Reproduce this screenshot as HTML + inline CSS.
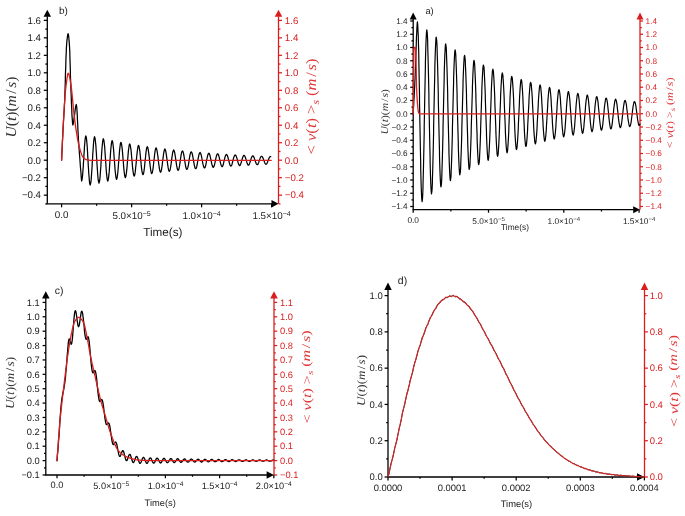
<!DOCTYPE html>
<html><head><meta charset="utf-8"><style>
html,body{margin:0;padding:0;background:#fff;}
svg{display:block;will-change:transform;}
text{text-rendering:geometricPrecision;}
</style></head><body>
<svg width="685" height="516" viewBox="0 0 685 516">
<rect width="685" height="516" fill="#fff"/>
<line x1="47.3" y1="203.8" x2="47.3" y2="16.3" stroke="#000" stroke-width="1.3"/>
<path d="M43.55,16.8 L47.3,9.8 L51.05,16.8Z" fill="#000"/>
<line x1="278.5" y1="203.8" x2="278.5" y2="16.3" stroke="#da1e1e" stroke-width="1.3"/>
<path d="M274.75,16.8 L278.5,9.8 L282.25,16.8Z" fill="#da1e1e"/>
<line x1="46.65" y1="203.8" x2="272" y2="203.8" stroke="#000" stroke-width="1.3"/>
<path d="M271.5,200.05 L278.5,203.8 L271.5,207.55Z" fill="#000"/>
<line x1="43.8" y1="195.16" x2="47.3" y2="195.16" stroke="#000" stroke-width="1.25"/>
<line x1="278.5" y1="195.16" x2="282" y2="195.16" stroke="#da1e1e" stroke-width="1.25"/>
<text x="41" y="198.46" font-size="9.7" font-family="'Liberation Sans', sans-serif" fill="#1a1a1a" text-anchor="end">−0.4</text>
<text x="284.8" y="198.46" font-size="9.7" font-family="'Liberation Sans', sans-serif" fill="#da1e1e">−0.4</text>
<line x1="43.8" y1="177.68" x2="47.3" y2="177.68" stroke="#000" stroke-width="1.25"/>
<line x1="278.5" y1="177.68" x2="282" y2="177.68" stroke="#da1e1e" stroke-width="1.25"/>
<text x="41" y="180.98" font-size="9.7" font-family="'Liberation Sans', sans-serif" fill="#1a1a1a" text-anchor="end">−0.2</text>
<text x="284.8" y="180.98" font-size="9.7" font-family="'Liberation Sans', sans-serif" fill="#da1e1e">−0.2</text>
<line x1="43.8" y1="160.2" x2="47.3" y2="160.2" stroke="#000" stroke-width="1.25"/>
<line x1="278.5" y1="160.2" x2="282" y2="160.2" stroke="#da1e1e" stroke-width="1.25"/>
<text x="41" y="163.5" font-size="9.7" font-family="'Liberation Sans', sans-serif" fill="#1a1a1a" text-anchor="end">0.0</text>
<text x="284.8" y="163.5" font-size="9.7" font-family="'Liberation Sans', sans-serif" fill="#da1e1e">0.0</text>
<line x1="43.8" y1="142.72" x2="47.3" y2="142.72" stroke="#000" stroke-width="1.25"/>
<line x1="278.5" y1="142.72" x2="282" y2="142.72" stroke="#da1e1e" stroke-width="1.25"/>
<text x="41" y="146.02" font-size="9.7" font-family="'Liberation Sans', sans-serif" fill="#1a1a1a" text-anchor="end">0.2</text>
<text x="284.8" y="146.02" font-size="9.7" font-family="'Liberation Sans', sans-serif" fill="#da1e1e">0.2</text>
<line x1="43.8" y1="125.24" x2="47.3" y2="125.24" stroke="#000" stroke-width="1.25"/>
<line x1="278.5" y1="125.24" x2="282" y2="125.24" stroke="#da1e1e" stroke-width="1.25"/>
<text x="41" y="128.54" font-size="9.7" font-family="'Liberation Sans', sans-serif" fill="#1a1a1a" text-anchor="end">0.4</text>
<text x="284.8" y="128.54" font-size="9.7" font-family="'Liberation Sans', sans-serif" fill="#da1e1e">0.4</text>
<line x1="43.8" y1="107.76" x2="47.3" y2="107.76" stroke="#000" stroke-width="1.25"/>
<line x1="278.5" y1="107.76" x2="282" y2="107.76" stroke="#da1e1e" stroke-width="1.25"/>
<text x="41" y="111.06" font-size="9.7" font-family="'Liberation Sans', sans-serif" fill="#1a1a1a" text-anchor="end">0.6</text>
<text x="284.8" y="111.06" font-size="9.7" font-family="'Liberation Sans', sans-serif" fill="#da1e1e">0.6</text>
<line x1="43.8" y1="90.28" x2="47.3" y2="90.28" stroke="#000" stroke-width="1.25"/>
<line x1="278.5" y1="90.28" x2="282" y2="90.28" stroke="#da1e1e" stroke-width="1.25"/>
<text x="41" y="93.58" font-size="9.7" font-family="'Liberation Sans', sans-serif" fill="#1a1a1a" text-anchor="end">0.8</text>
<text x="284.8" y="93.58" font-size="9.7" font-family="'Liberation Sans', sans-serif" fill="#da1e1e">0.8</text>
<line x1="43.8" y1="72.8" x2="47.3" y2="72.8" stroke="#000" stroke-width="1.25"/>
<line x1="278.5" y1="72.8" x2="282" y2="72.8" stroke="#da1e1e" stroke-width="1.25"/>
<text x="41" y="76.1" font-size="9.7" font-family="'Liberation Sans', sans-serif" fill="#1a1a1a" text-anchor="end">1.0</text>
<text x="284.8" y="76.1" font-size="9.7" font-family="'Liberation Sans', sans-serif" fill="#da1e1e">1.0</text>
<line x1="43.8" y1="55.32" x2="47.3" y2="55.32" stroke="#000" stroke-width="1.25"/>
<line x1="278.5" y1="55.32" x2="282" y2="55.32" stroke="#da1e1e" stroke-width="1.25"/>
<text x="41" y="58.62" font-size="9.7" font-family="'Liberation Sans', sans-serif" fill="#1a1a1a" text-anchor="end">1.2</text>
<text x="284.8" y="58.62" font-size="9.7" font-family="'Liberation Sans', sans-serif" fill="#da1e1e">1.2</text>
<line x1="43.8" y1="37.84" x2="47.3" y2="37.84" stroke="#000" stroke-width="1.25"/>
<line x1="278.5" y1="37.84" x2="282" y2="37.84" stroke="#da1e1e" stroke-width="1.25"/>
<text x="41" y="41.14" font-size="9.7" font-family="'Liberation Sans', sans-serif" fill="#1a1a1a" text-anchor="end">1.4</text>
<text x="284.8" y="41.14" font-size="9.7" font-family="'Liberation Sans', sans-serif" fill="#da1e1e">1.4</text>
<line x1="43.8" y1="20.36" x2="47.3" y2="20.36" stroke="#000" stroke-width="1.25"/>
<line x1="278.5" y1="20.36" x2="282" y2="20.36" stroke="#da1e1e" stroke-width="1.25"/>
<text x="41" y="23.66" font-size="9.7" font-family="'Liberation Sans', sans-serif" fill="#1a1a1a" text-anchor="end">1.6</text>
<text x="284.8" y="23.66" font-size="9.7" font-family="'Liberation Sans', sans-serif" fill="#da1e1e">1.6</text>
<line x1="45.3" y1="203.9" x2="47.3" y2="203.9" stroke="#000" stroke-width="1.25"/>
<line x1="278.5" y1="203.9" x2="280.5" y2="203.9" stroke="#da1e1e" stroke-width="1.25"/>
<line x1="45.3" y1="186.42" x2="47.3" y2="186.42" stroke="#000" stroke-width="1.25"/>
<line x1="278.5" y1="186.42" x2="280.5" y2="186.42" stroke="#da1e1e" stroke-width="1.25"/>
<line x1="45.3" y1="168.94" x2="47.3" y2="168.94" stroke="#000" stroke-width="1.25"/>
<line x1="278.5" y1="168.94" x2="280.5" y2="168.94" stroke="#da1e1e" stroke-width="1.25"/>
<line x1="45.3" y1="151.46" x2="47.3" y2="151.46" stroke="#000" stroke-width="1.25"/>
<line x1="278.5" y1="151.46" x2="280.5" y2="151.46" stroke="#da1e1e" stroke-width="1.25"/>
<line x1="45.3" y1="133.98" x2="47.3" y2="133.98" stroke="#000" stroke-width="1.25"/>
<line x1="278.5" y1="133.98" x2="280.5" y2="133.98" stroke="#da1e1e" stroke-width="1.25"/>
<line x1="45.3" y1="116.5" x2="47.3" y2="116.5" stroke="#000" stroke-width="1.25"/>
<line x1="278.5" y1="116.5" x2="280.5" y2="116.5" stroke="#da1e1e" stroke-width="1.25"/>
<line x1="45.3" y1="99.02" x2="47.3" y2="99.02" stroke="#000" stroke-width="1.25"/>
<line x1="278.5" y1="99.02" x2="280.5" y2="99.02" stroke="#da1e1e" stroke-width="1.25"/>
<line x1="45.3" y1="81.54" x2="47.3" y2="81.54" stroke="#000" stroke-width="1.25"/>
<line x1="278.5" y1="81.54" x2="280.5" y2="81.54" stroke="#da1e1e" stroke-width="1.25"/>
<line x1="45.3" y1="64.06" x2="47.3" y2="64.06" stroke="#000" stroke-width="1.25"/>
<line x1="278.5" y1="64.06" x2="280.5" y2="64.06" stroke="#da1e1e" stroke-width="1.25"/>
<line x1="45.3" y1="46.58" x2="47.3" y2="46.58" stroke="#000" stroke-width="1.25"/>
<line x1="278.5" y1="46.58" x2="280.5" y2="46.58" stroke="#da1e1e" stroke-width="1.25"/>
<line x1="45.3" y1="29.1" x2="47.3" y2="29.1" stroke="#000" stroke-width="1.25"/>
<line x1="278.5" y1="29.1" x2="280.5" y2="29.1" stroke="#da1e1e" stroke-width="1.25"/>
<line x1="61.6" y1="203.8" x2="61.6" y2="207.3" stroke="#000" stroke-width="1.25"/>
<line x1="131.6" y1="203.8" x2="131.6" y2="207.3" stroke="#000" stroke-width="1.25"/>
<line x1="201.6" y1="203.8" x2="201.6" y2="207.3" stroke="#000" stroke-width="1.25"/>
<line x1="271.6" y1="203.8" x2="271.6" y2="207.3" stroke="#000" stroke-width="1.25"/>
<line x1="96.6" y1="203.8" x2="96.6" y2="205.8" stroke="#000" stroke-width="1.25"/>
<line x1="166.6" y1="203.8" x2="166.6" y2="205.8" stroke="#000" stroke-width="1.25"/>
<line x1="236.6" y1="203.8" x2="236.6" y2="205.8" stroke="#000" stroke-width="1.25"/>
<text x="61.6" y="217.7" font-size="9.8" font-family="'Liberation Sans', sans-serif" fill="#1a1a1a" text-anchor="middle">0.0</text>
<text x="131.6" y="219" font-size="9.8" font-family="'Liberation Sans', sans-serif" fill="#1a1a1a" text-anchor="middle">5.0×10<tspan dy="-0.45em" font-size="0.72em">−5</tspan></text>
<text x="201.6" y="219" font-size="9.8" font-family="'Liberation Sans', sans-serif" fill="#1a1a1a" text-anchor="middle">1.0×10<tspan dy="-0.45em" font-size="0.72em">−4</tspan></text>
<text x="271.6" y="219" font-size="9.8" font-family="'Liberation Sans', sans-serif" fill="#1a1a1a" text-anchor="middle">1.5×10<tspan dy="-0.45em" font-size="0.72em">−4</tspan></text>
<text x="162.9" y="235.9" font-size="11.7" font-family="'Liberation Sans', sans-serif" fill="#1a1a1a" text-anchor="middle">Time(s)</text>
<text x="59" y="13.7" font-size="10" font-family="'Liberation Sans', sans-serif" fill="#1a1a1a">b)</text>
<text transform="translate(15.6,107) rotate(-90)" x="0" y="0" text-anchor="middle" font-family="&apos;Liberation Serif&apos;, serif" font-size="15" fill="#333" textLength="61" lengthAdjust="spacingAndGlyphs"><tspan font-style="italic">U</tspan>(<tspan font-style="italic">t</tspan>)(<tspan font-style="italic">m</tspan><tspan dx="0.1em">/</tspan><tspan font-style="italic" dx="0.1em">s</tspan>)</text>
<text transform="translate(316.2,106.5) rotate(-90)" x="0" y="0" text-anchor="middle" font-family="&apos;Liberation Serif&apos;, serif" font-size="14.5" fill="#e03636" textLength="96" lengthAdjust="spacingAndGlyphs">&lt; <tspan font-style="italic">v</tspan>(<tspan font-style="italic">t</tspan>) &gt;<tspan font-style="italic" font-size="0.7em" dy="0.25em">s</tspan><tspan dy="-0.18em"> (</tspan><tspan font-style="italic">m</tspan><tspan dx="0.1em">/</tspan><tspan font-style="italic" dx="0.1em">s</tspan>)</text>
<path d="M61.6 160.2L61.8 156.4L61.9 152.7L62.1 149.1L62.3 145.5L62.4 142L62.6 138.5L62.8 135.2L62.9 131.8L63.1 128.6L63.3 125.4L63.4 122.2L63.6 119.2L63.8 116.5L63.9 114L64.3 108.9L64.4 106L64.6 102.8L64.8 98.9L64.9 93.8L65.1 87.8L65.3 81.5L65.4 75.4L65.6 70L65.8 65.1L65.9 60.1L66.1 55.4L66.3 51.1L66.4 47.6L66.6 45L66.9 41.1L67.3 37.8L67.6 35.2L68.1 33.6L68.6 35.6L68.9 38.8L69.3 43.1L69.6 48L69.8 51.6L69.9 56.7L70.1 62.8L70.3 69.1L70.4 75.1L70.6 80L70.8 84.3L70.9 88.7L71.1 93.1L71.3 97.6L71.4 101.9L71.6 106.1L71.8 110.1L71.9 113.7L72.1 117L72.3 119.8L72.6 123.8L72.9 125L73.4 123.1L73.9 119.3L74.3 116.6L74.8 113.2L75.1 110.7L75.4 108.2L75.9 105.3L76.3 104.5L76.8 107.5L77.1 112.5L77.3 115.6L77.4 118.9L77.6 122.4L77.8 126L77.9 129.6L78.1 133L78.3 136.2L78.4 139L78.8 143.9L79.1 148.6L79.4 153.3L79.8 157.9L80.1 162.4L80.4 166.7L80.8 171L81.1 175.1L81.4 179.1L81.6 181L82.1 179.4L82.6 175.2L82.9 171.1L83.3 166.3L83.4 163.6L83.6 160.9L83.8 158.1L83.9 155.4L84.1 152.6L84.3 150L84.4 147.5L84.8 143L85.1 139.4L85.6 136.3L85.9 135.9L86.4 138L86.7 140.9L87.1 145L87.4 150L87.6 152.7L87.7 155.6L87.9 158.5L88.1 161.4L88.2 164.3L88.4 167.2L88.6 170L88.7 172.6L89.1 177.3L89.4 181L89.7 183.6L90.2 185L90.7 183.2L91.1 180.5L91.4 176.6L91.7 171.8L91.9 169.2L92.1 166.5L92.2 163.6L92.4 160.8L92.6 157.9L92.7 155.1L92.9 152.3L93.1 149.7L93.4 145L93.7 141.2L94.1 138.4L94.5 136.7L95 137.9L95.5 142L95.9 146L96.2 150.7L96.4 153.3L96.5 156L96.7 158.7L96.9 161.5L97 164.2L97.2 166.9L97.4 169.5L97.7 174.2L98 178L98.4 180.9L98.9 183L99 183.1L99.5 181.4L99.9 178.8L100.2 175.2L100.5 170.8L100.9 165.8L101 163.2L101.2 160.6L101.4 158L101.5 155.4L101.7 152.9L102 148.2L102.4 144.3L102.7 141.3L103.2 138.9L103.3 138.7L103.8 139.9L104.3 143.6L104.7 147.3L105 151.7L105.3 156.5L105.5 159L105.7 161.5L106 166.5L106.3 171L106.7 174.9L107 178L107.5 180.7L107.8 181.1L108.3 179.5L108.8 175.6L109.2 171.9L109.5 167.5L109.8 162.8L110.2 158L110.5 153.4L110.8 149.2L111.2 145.7L111.5 142.9L112 140.8L112.1 140.6L112.6 141.7L113.1 145.2L113.5 148.6L113.8 152.6L114.1 157L114.5 161.6L114.8 166.1L115.1 170.2L115.5 173.8L115.8 176.5L116.3 179L116.6 179.3L117.1 177.8L117.6 174.1L118 170.7L118.3 166.8L118.6 162.5L119 158.1L119.3 153.9L119.6 150.1L120 146.9L120.4 143.5L120.9 142.3L121.4 143.4L121.9 146.6L122.3 149.7L122.6 153.4L122.9 157.4L123.3 161.6L123.6 165.7L123.9 169.4L124.3 172.7L124.6 175.2L125.1 177.3L125.4 177.6L125.9 176.2L126.4 172.9L126.8 169.7L127.1 166.1L127.4 162.2L127.8 158.2L128.1 154.4L128.4 150.9L128.8 148L129.2 145L129.7 143.9L130.2 145L130.7 147.9L131.1 150.7L131.4 154.1L131.7 157.8L132.1 161.6L132.4 165.3L132.7 168.7L133.1 171.7L133.6 174.8L134.1 176.1L134.6 175.4L135.1 172.9L135.4 170.3L135.7 167.2L136.1 163.8L136.4 160.1L136.7 156.5L137.1 153.2L137.4 150.3L137.9 147L138.4 145.5L138.5 145.4L139 146.3L139.5 149.1L139.9 151.7L140.2 154.7L140.5 158.1L140.9 161.6L141.2 165L141.5 168.1L141.9 170.7L142.4 173.6L142.9 174.7L143.4 174.1L143.9 171.7L144.4 168L144.7 165L145 161.7L145.4 158.4L145.7 155.2L146 152.4L146.5 149L147 147.1L147.3 146.7L147.8 147.6L148.3 150.1L148.8 153.9L149.2 156.8L149.5 160L149.8 163.1L150.2 166.1L150.5 168.7L151 171.7L151.5 173.3L151.7 173.5L152.2 172.9L152.7 170.7L153.2 167.3L153.5 164.5L153.8 161.5L154.2 158.5L154.5 155.6L154.8 153L155.3 149.9L155.8 148.2L156.1 147.9L156.6 148.8L157.1 151.1L157.6 154.5L158 157.2L158.3 160.1L158.6 163L159 165.7L159.5 169.1L160 171.4L160.5 172.3L161 171.7L161.5 169.7L162 166.6L162.3 164.1L162.6 161.3L163 158.6L163.3 156L163.8 152.5L164.3 150.2L164.8 149.1L164.9 149L165.4 149.8L165.9 151.9L166.4 155.1L166.9 158.9L167.3 161.5L167.6 164.1L168.1 167.4L168.6 169.9L169.1 171.2L169.3 171.3L169.8 170.7L170.3 168.9L170.8 166L171.3 162.4L171.6 159.9L172.1 156.3L172.6 153.2L173.1 151L173.6 150.1L173.7 150L174.2 150.8L174.7 152.7L175.2 155.6L175.7 159.1L176.2 162.7L176.7 165.9L177.2 168.5L177.7 170L178.1 170.3L178.6 169.8L179.1 168.1L179.6 165.4L180.1 162.2L180.5 158.8L181 155.6L181.5 153L182 151.4L182.5 150.9L183 151.6L183.5 153.4L184 156.1L184.5 159.3L185 162.5L185.5 165.5L186 167.8L186.5 169.2L186.9 169.4L187.4 168.9L187.9 167.4L188.4 164.9L188.9 162L189.3 158.9L189.8 156L190.3 153.6L190.8 152.2L191.3 151.8L191.8 152.4L192.3 154.1L192.8 156.5L193.3 159.4L193.8 162.4L194.3 165.1L194.8 167.2L195.3 168.4L195.7 168.6L196.2 168.2L196.7 166.7L197.2 164.5L197.6 161.8L198.1 158.9L198.6 156.3L199.1 154.2L199.6 152.9L200.1 152.5L200.6 153.2L201.1 154.7L201.6 156.9L202.1 159.5L202.6 162.3L203.1 164.7L203.6 166.6L204.1 167.7L204.5 167.9L205 167.5L205.5 166.1L206 164.1L206.4 161.6L206.9 159L207.4 156.6L207.9 154.7L208.4 153.5L208.9 153.2L209.4 153.8L209.9 155.2L210.4 157.3L210.9 159.7L211.4 162.1L211.9 164.4L212.4 166.1L212.9 167.1L213.3 167.3L213.8 166.8L214.3 165.6L214.8 163.7L215.2 161.5L215.7 159.1L216.2 156.9L216.7 155.2L217.2 154.1L217.6 153.9L218.1 154.1L218.6 155.2L219.1 156.9L219.6 159L220.1 161.3L220.6 163.4L221.1 165.2L221.6 166.3L222.1 166.7L222.6 166.2L223.1 165.1L223.5 163.4L224 161.3L224.5 159.2L225 157.2L225.5 155.6L226 154.7L226.4 154.4L226.9 154.7L227.4 155.7L227.9 157.2L228.4 159.2L228.9 161.2L229.4 163.2L229.9 164.8L230.4 165.8L230.9 166.1L231.4 165.7L231.9 164.7L232.3 163.1L232.8 161.2L233.3 159.2L233.8 157.4L234.3 156L234.8 155.2L235.2 155L235.7 155.2L236.2 156.1L236.7 157.6L237.2 159.3L237.7 161.2L238.2 163L238.7 164.4L239.2 165.3L239.7 165.6L240.2 165.2L240.6 164.3L241.1 162.8L241.6 161.1L242.1 159.3L242.6 157.7L243.1 156.4L243.6 155.6L244 155.4L244.5 155.7L245 156.5L245.5 157.8L246 159.4L246.5 161.2L247 162.8L247.5 164.1L248 164.9L248.5 165.1L249 164.8L249.4 163.9L249.9 162.6L250.4 161L250.9 159.4L251.4 157.9L251.9 156.7L252.4 156L252.8 155.9L253.3 156.1L253.8 156.9L254.3 158.1L254.8 159.6L255.3 161.1L255.8 162.6L256.3 163.8L256.8 164.5L257.3 164.7L257.8 164.4L258.2 163.6L258.7 162.4L259.2 160.9L259.7 159.4L260.2 158.1L260.7 157L261.2 156.4L261.6 156.3L262.1 156.5L262.6 157.2L263.1 158.3L263.6 159.7L264.1 161.1L264.6 162.4L265.1 163.5L265.6 164.2L266.1 164.3L266.5 164L267 163.3L267.5 162.2L268 160.9L268.5 159.5L269 158.3L269.5 157.3L270 156.7L270.4 156.6L270.7 156.7" fill="none" stroke="#000" stroke-width="1.25" stroke-linejoin="round" stroke-linecap="round"/>
<path d="M61.6 160.2L61.8 154.6L62.1 149.1L62.3 143.7L62.6 138.6L62.8 133.5L63.1 128.6L63.3 123.8L63.6 119.2L63.8 114.5L64.1 110.1L64.3 105.8L64.6 102L64.8 98.7L65.1 95.5L65.3 92.6L65.6 89.8L66.1 85.2L66.6 81.3L67.1 77.6L67.6 74.7L68.1 73.2L68.3 73.2L68.8 74.1L69.3 75.8L69.8 78.2L70.3 81.1L70.8 84.2L71.3 87.3L71.8 91.5L72.3 96.6L72.6 99.4L72.8 102.1L73.1 104.8L73.3 107.4L73.8 112L74.3 116.3L74.8 120.4L75.3 124.3L75.8 127.9L76.3 131.2L76.8 134.4L77.3 137.3L77.8 140.2L78.3 142.8L78.8 145.1L79.3 147.1L79.8 148.8L80.3 150.5L80.8 152.1L81.3 153.6L81.8 154.9L82.3 156L82.8 156.9L83.3 157.5L83.8 158L84.3 158.4L84.8 158.7L85.3 159.1L85.8 159.4L86.3 159.6L86.8 159.8L87.3 160L87.8 160.1L88.3 160.2L88.8 160.2L89.3 160.2L89.8 160.3L90.3 160.3L90.8 160.3L91.3 160.3L91.8 160.4L92.3 160.4L92.8 160.4L93.3 160.4L93.8 160.4L94.3 160.4L94.8 160.4L95.1 160.4L95.3 160.4L95.6 160.4L95.8 160.4L96.1 160.4L96.3 160.4L96.6 160.4L96.8 160.4L97.1 160.4L97.3 160.4L97.6 160.4L97.8 160.4L98.1 160.4L98.3 160.4L98.6 160.4L98.8 160.4L99.1 160.4L99.3 160.4L99.6 160.4L99.8 160.4L100.1 160.4L100.3 160.4L100.6 160.4L100.8 160.4L101.1 160.4L101.3 160.4L101.6 160.4L101.8 160.4L102.1 160.4L102.3 160.4L102.6 160.4L102.8 160.4L103.1 160.4L103.3 160.4L103.6 160.4L103.8 160.4L104.1 160.4L104.3 160.4L104.6 160.4L104.8 160.4L105.1 160.4L105.3 160.4L105.6 160.4L105.8 160.4L106.1 160.4L106.3 160.4L106.6 160.4L106.8 160.4L107.1 160.4L107.3 160.4L107.6 160.4L107.8 160.4L108.1 160.4L108.3 160.4L108.6 160.4L108.8 160.4L109.1 160.4L109.3 160.4L109.6 160.4L109.8 160.4L110.1 160.4L110.3 160.4L110.6 160.4L110.8 160.4L111.1 160.4L111.3 160.4L111.6 160.4L111.8 160.4L112.1 160.4L112.3 160.4L112.6 160.4L112.8 160.4L113.1 160.4L113.3 160.4L113.6 160.4L113.8 160.4L114.1 160.4L114.3 160.4L114.6 160.4L114.8 160.4L115.1 160.4L115.3 160.4L115.6 160.4L115.8 160.4L116.1 160.4L116.3 160.4L116.6 160.4L116.8 160.4L117.1 160.4L117.3 160.4L117.6 160.4L117.8 160.4L118.1 160.4L118.3 160.4L118.6 160.4L118.8 160.4L119.1 160.4L119.3 160.4L119.6 160.4L119.8 160.4L120.1 160.4L120.3 160.4L120.6 160.4L120.8 160.4L121.1 160.4L121.3 160.4L121.6 160.4L121.8 160.4L122.1 160.4L122.3 160.4L122.6 160.4L122.8 160.4L123.1 160.4L123.3 160.4L123.6 160.4L123.8 160.4L124.1 160.4L124.3 160.4L124.6 160.4L124.8 160.4L125.1 160.4L125.3 160.4L125.6 160.4L125.8 160.4L126.1 160.4L126.3 160.4L126.6 160.4L126.8 160.4L127.1 160.4L127.3 160.4L127.6 160.4L127.8 160.4L128.1 160.4L128.3 160.4L128.6 160.4L128.8 160.4L129.1 160.4L129.3 160.4L129.6 160.4L129.8 160.4L130.1 160.4L130.3 160.4L130.6 160.4L130.8 160.4L131.1 160.4L131.3 160.4L131.5 160.4L131.8 160.4L132 160.4L132.3 160.4L132.5 160.4L132.8 160.4L133 160.4L133.3 160.4L133.5 160.4L133.8 160.4L134 160.4L134.3 160.4L134.5 160.4L134.8 160.4L135 160.4L135.3 160.4L135.5 160.4L135.8 160.4L136 160.4L136.3 160.4L136.5 160.4L136.8 160.4L137 160.4L137.3 160.4L137.5 160.4L137.8 160.4L138 160.4L138.3 160.4L138.5 160.4L138.8 160.4L139 160.4L139.3 160.4L139.5 160.4L139.8 160.4L140 160.4L140.3 160.4L140.5 160.4L140.8 160.4L141 160.4L141.3 160.4L141.5 160.4L141.8 160.4L142 160.4L142.3 160.4L142.5 160.4L142.8 160.4L143 160.4L143.3 160.4L143.5 160.4L143.8 160.4L144 160.4L144.3 160.4L144.5 160.4L144.8 160.4L145 160.4L145.3 160.4L145.5 160.4L145.8 160.4L146 160.4L146.3 160.4L146.5 160.4L146.8 160.4L147 160.4L147.3 160.4L147.5 160.4L147.8 160.4L148 160.4L148.3 160.4L148.5 160.4L148.8 160.4L149 160.4L149.3 160.4L149.5 160.4L149.8 160.4L150 160.4L150.3 160.4L150.5 160.4L150.8 160.4L151 160.4L151.3 160.4L151.5 160.4L151.8 160.4L152 160.4L152.3 160.4L152.5 160.4L152.8 160.4L153 160.4L153.3 160.4L153.5 160.4L153.8 160.4L154 160.4L154.3 160.4L154.5 160.4L154.8 160.4L155 160.4L155.3 160.4L155.5 160.4L155.8 160.4L156 160.4L156.3 160.4L156.5 160.4L156.8 160.4L157 160.4L157.3 160.4L157.5 160.4L157.8 160.4L158 160.4L158.3 160.4L158.5 160.4L158.8 160.4L159 160.4L159.3 160.4L159.5 160.4L159.8 160.4L160 160.4L160.3 160.4L160.5 160.4L160.8 160.4L161 160.4L161.3 160.4L161.5 160.4L161.8 160.4L162 160.4L162.3 160.4L162.5 160.4L162.8 160.4L163 160.4L163.3 160.4L163.5 160.4L163.8 160.4L164 160.4L164.3 160.4L164.5 160.4L164.8 160.4L165 160.4L165.3 160.4L165.5 160.4L165.8 160.4L166 160.4L166.3 160.4L166.5 160.4L166.8 160.4L167 160.4L167.3 160.4L167.5 160.4L167.8 160.4L168 160.4L168.3 160.4L168.5 160.4L168.8 160.4L169 160.4L169.3 160.4L169.5 160.4L169.8 160.4L170 160.4L170.3 160.4L170.5 160.4L170.8 160.4L171 160.4L171.3 160.4L171.5 160.4L171.8 160.4L172 160.4L172.3 160.4L172.5 160.4L172.8 160.4L173 160.4L173.3 160.4L173.5 160.4L173.8 160.4L174 160.4L174.3 160.4L174.5 160.4L174.8 160.4L175 160.4L175.3 160.4L175.5 160.4L175.8 160.4L176 160.4L176.3 160.4L176.5 160.4L176.8 160.4L177 160.4L177.3 160.4L177.5 160.4L177.8 160.4L178 160.4L178.3 160.4L178.5 160.4L178.8 160.4L179 160.4L179.3 160.4L179.5 160.4L179.8 160.4L180 160.4L180.3 160.4L180.5 160.4L180.8 160.4L181 160.4L181.3 160.4L181.5 160.4L181.8 160.4L182 160.4L182.3 160.4L182.5 160.4L182.8 160.4L183 160.4L183.3 160.4L183.5 160.4L183.8 160.4L184 160.4L184.3 160.4L184.5 160.4L184.8 160.4L185 160.4L185.3 160.4L185.5 160.4L185.8 160.4L186 160.4L186.3 160.4L186.5 160.4L186.8 160.4L187 160.4L187.3 160.4L187.5 160.4L187.8 160.4L188 160.4L188.3 160.4L188.5 160.4L188.8 160.4L189 160.4L189.3 160.4L189.5 160.4L189.8 160.4L190 160.4L190.3 160.4L190.5 160.4L190.8 160.4L191 160.4L191.3 160.4L191.5 160.4L191.8 160.4L192 160.4L192.3 160.4L192.5 160.4L192.8 160.4L193 160.4L193.3 160.4L193.5 160.4L193.8 160.4L194 160.4L194.3 160.4L194.5 160.4L194.8 160.4L195 160.4L195.3 160.4L195.5 160.4L195.8 160.4L196 160.4L196.3 160.4L196.5 160.4L196.8 160.4L197 160.4L197.3 160.4L197.5 160.4L197.8 160.4L198 160.4L198.3 160.4L198.5 160.4L198.8 160.4L199 160.4L199.3 160.4L199.5 160.4L199.8 160.4L200 160.4L200.3 160.4L200.5 160.4L200.8 160.4L201 160.4L201.3 160.4L201.5 160.4L201.7 160.4L202 160.4L202.2 160.4L202.5 160.4L202.7 160.4L203 160.4L203.2 160.4L203.5 160.4L203.7 160.4L204 160.4L204.2 160.4L204.5 160.4L204.7 160.4L205 160.4L205.2 160.4L205.5 160.4L205.7 160.4L206 160.4L206.2 160.4L206.5 160.4L206.7 160.4L207 160.4L207.2 160.4L207.5 160.4L207.7 160.4L208 160.4L208.2 160.4L208.5 160.4L208.7 160.4L209 160.4L209.2 160.4L209.5 160.4L209.7 160.4L210 160.4L210.2 160.4L210.5 160.4L210.7 160.4L211 160.4L211.2 160.4L211.5 160.4L211.7 160.4L212 160.4L212.2 160.4L212.5 160.4L212.7 160.4L213 160.4L213.2 160.4L213.5 160.4L213.7 160.4L214 160.4L214.2 160.4L214.5 160.4L214.7 160.4L215 160.4L215.2 160.4L215.5 160.4L215.7 160.4L216 160.4L216.2 160.4L216.5 160.4L216.7 160.4L217 160.4L217.2 160.4L217.5 160.4L217.7 160.4L218 160.4L218.2 160.4L218.5 160.4L218.7 160.4L219 160.4L219.2 160.4L219.5 160.4L219.7 160.4L220 160.4L220.2 160.4L220.5 160.4L220.7 160.4L221 160.4L221.2 160.4L221.5 160.4L221.7 160.4L222 160.4L222.2 160.4L222.5 160.4L222.7 160.4L223 160.4L223.2 160.4L223.5 160.4L223.7 160.4L224 160.4L224.2 160.4L224.5 160.4L224.7 160.4L225 160.4L225.2 160.4L225.5 160.4L225.7 160.4L226 160.4L226.2 160.4L226.5 160.4L226.7 160.4L227 160.4L227.2 160.4L227.5 160.4L227.7 160.4L228 160.4L228.2 160.4L228.5 160.4L228.7 160.4L229 160.4L229.2 160.4L229.5 160.4L229.7 160.4L230 160.4L230.2 160.4L230.5 160.4L230.7 160.4L231 160.4L231.2 160.4L231.5 160.4L231.7 160.4L232 160.4L232.2 160.4L232.5 160.4L232.7 160.4L233 160.4L233.2 160.4L233.5 160.4L233.7 160.4L234 160.4L234.2 160.4L234.5 160.4L234.7 160.4L235 160.4L235.2 160.4L235.5 160.4L235.7 160.4L236 160.4L236.2 160.4L236.5 160.4L236.7 160.4L237 160.4L237.2 160.4L237.5 160.4L237.7 160.4L238 160.4L238.2 160.4L238.5 160.4L238.7 160.4L239 160.4L239.2 160.4L239.5 160.4L239.7 160.4L240 160.4L240.2 160.4L240.5 160.4L240.7 160.4L241 160.4L241.2 160.4L241.5 160.4L241.7 160.4L242 160.4L242.2 160.4L242.5 160.4L242.7 160.4L243 160.4L243.2 160.4L243.5 160.4L243.7 160.4L244 160.4L244.2 160.4L244.5 160.4L244.7 160.4L245 160.4L245.2 160.4L245.5 160.4L245.7 160.4L246 160.4L246.2 160.4L246.5 160.4L246.7 160.4L247 160.4L247.2 160.4L247.5 160.4L247.7 160.4L248 160.4L248.2 160.4L248.5 160.4L248.7 160.4L249 160.4L249.2 160.4L249.5 160.4L249.7 160.4L250 160.4L250.2 160.4L250.5 160.4L250.7 160.4L251 160.4L251.2 160.4L251.5 160.4L251.7 160.4L252 160.4L252.2 160.4L252.5 160.4L252.7 160.4L253 160.4L253.2 160.4L253.5 160.4L253.7 160.4L254 160.4L254.2 160.4L254.5 160.4L254.7 160.4L255 160.4L255.2 160.4L255.5 160.4L255.7 160.4L256 160.4L256.2 160.4L256.5 160.4L256.7 160.4L257 160.4L257.2 160.4L257.5 160.4L257.7 160.4L258 160.4L258.2 160.4L258.5 160.4L258.7 160.4L259 160.4L259.2 160.4L259.5 160.4L259.7 160.4L260 160.4L260.2 160.4L260.5 160.4L260.7 160.4L261 160.4L261.2 160.4L261.5 160.4L261.7 160.4L262 160.4L262.2 160.4L262.5 160.4L262.7 160.4L263 160.4L263.2 160.4L263.5 160.4L263.7 160.4L264 160.4L264.2 160.4L264.5 160.4L264.7 160.4L265 160.4L265.2 160.4L265.5 160.4L265.7 160.4L266 160.4L266.2 160.4L266.5 160.4L266.7 160.4L267 160.4L267.2 160.4L267.5 160.4L267.7 160.4L268 160.4L268.2 160.4L268.5 160.4L268.7 160.4L269 160.4L269.2 160.4L269.5 160.4L269.7 160.4L270 160.4L270.2 160.4L270.5 160.4L270.7 160.4L271 160.4L271.2 160.4" fill="none" stroke="#da1e1e" stroke-width="1.3" stroke-linejoin="round" stroke-linecap="round"/>
<line x1="413.2" y1="209.7" x2="413.2" y2="18.9" stroke="#000" stroke-width="1.3"/>
<path d="M409.7,19.4 L413.2,12.6 L416.7,19.4Z" fill="#000"/>
<line x1="640" y1="209.7" x2="640" y2="18.9" stroke="#da1e1e" stroke-width="1.3"/>
<path d="M636.5,19.4 L640,12.6 L643.5,19.4Z" fill="#da1e1e"/>
<line x1="412.55" y1="209.7" x2="633.7" y2="209.7" stroke="#000" stroke-width="1.3"/>
<path d="M633.2,206.2 L640,209.7 L633.2,213.2Z" fill="#000"/>
<line x1="410.2" y1="206.5" x2="413.2" y2="206.5" stroke="#000" stroke-width="1.25"/>
<line x1="640" y1="206.5" x2="643" y2="206.5" stroke="#da1e1e" stroke-width="1.25"/>
<text x="407.6" y="209.4" font-size="8.2" font-family="'Liberation Sans', sans-serif" fill="#1a1a1a" text-anchor="end">−1.4</text>
<text x="645.6" y="209.4" font-size="8.2" font-family="'Liberation Sans', sans-serif" fill="#da1e1e">−1.4</text>
<line x1="410.2" y1="193.25" x2="413.2" y2="193.25" stroke="#000" stroke-width="1.25"/>
<line x1="640" y1="193.25" x2="643" y2="193.25" stroke="#da1e1e" stroke-width="1.25"/>
<text x="407.6" y="196.15" font-size="8.2" font-family="'Liberation Sans', sans-serif" fill="#1a1a1a" text-anchor="end">−1.2</text>
<text x="645.6" y="196.15" font-size="8.2" font-family="'Liberation Sans', sans-serif" fill="#da1e1e">−1.2</text>
<line x1="410.2" y1="180" x2="413.2" y2="180" stroke="#000" stroke-width="1.25"/>
<line x1="640" y1="180" x2="643" y2="180" stroke="#da1e1e" stroke-width="1.25"/>
<text x="407.6" y="182.9" font-size="8.2" font-family="'Liberation Sans', sans-serif" fill="#1a1a1a" text-anchor="end">−1.0</text>
<text x="645.6" y="182.9" font-size="8.2" font-family="'Liberation Sans', sans-serif" fill="#da1e1e">−1.0</text>
<line x1="410.2" y1="166.75" x2="413.2" y2="166.75" stroke="#000" stroke-width="1.25"/>
<line x1="640" y1="166.75" x2="643" y2="166.75" stroke="#da1e1e" stroke-width="1.25"/>
<text x="407.6" y="169.65" font-size="8.2" font-family="'Liberation Sans', sans-serif" fill="#1a1a1a" text-anchor="end">−0.8</text>
<text x="645.6" y="169.65" font-size="8.2" font-family="'Liberation Sans', sans-serif" fill="#da1e1e">−0.8</text>
<line x1="410.2" y1="153.5" x2="413.2" y2="153.5" stroke="#000" stroke-width="1.25"/>
<line x1="640" y1="153.5" x2="643" y2="153.5" stroke="#da1e1e" stroke-width="1.25"/>
<text x="407.6" y="156.4" font-size="8.2" font-family="'Liberation Sans', sans-serif" fill="#1a1a1a" text-anchor="end">−0.6</text>
<text x="645.6" y="156.4" font-size="8.2" font-family="'Liberation Sans', sans-serif" fill="#da1e1e">−0.6</text>
<line x1="410.2" y1="140.25" x2="413.2" y2="140.25" stroke="#000" stroke-width="1.25"/>
<line x1="640" y1="140.25" x2="643" y2="140.25" stroke="#da1e1e" stroke-width="1.25"/>
<text x="407.6" y="143.15" font-size="8.2" font-family="'Liberation Sans', sans-serif" fill="#1a1a1a" text-anchor="end">−0.4</text>
<text x="645.6" y="143.15" font-size="8.2" font-family="'Liberation Sans', sans-serif" fill="#da1e1e">−0.4</text>
<line x1="410.2" y1="127" x2="413.2" y2="127" stroke="#000" stroke-width="1.25"/>
<line x1="640" y1="127" x2="643" y2="127" stroke="#da1e1e" stroke-width="1.25"/>
<text x="407.6" y="129.9" font-size="8.2" font-family="'Liberation Sans', sans-serif" fill="#1a1a1a" text-anchor="end">−0.2</text>
<text x="645.6" y="129.9" font-size="8.2" font-family="'Liberation Sans', sans-serif" fill="#da1e1e">−0.2</text>
<line x1="410.2" y1="113.75" x2="413.2" y2="113.75" stroke="#000" stroke-width="1.25"/>
<line x1="640" y1="113.75" x2="643" y2="113.75" stroke="#da1e1e" stroke-width="1.25"/>
<text x="407.6" y="116.65" font-size="8.2" font-family="'Liberation Sans', sans-serif" fill="#1a1a1a" text-anchor="end">0.0</text>
<text x="645.6" y="116.65" font-size="8.2" font-family="'Liberation Sans', sans-serif" fill="#da1e1e">0.0</text>
<line x1="410.2" y1="100.5" x2="413.2" y2="100.5" stroke="#000" stroke-width="1.25"/>
<line x1="640" y1="100.5" x2="643" y2="100.5" stroke="#da1e1e" stroke-width="1.25"/>
<text x="407.6" y="103.4" font-size="8.2" font-family="'Liberation Sans', sans-serif" fill="#1a1a1a" text-anchor="end">0.2</text>
<text x="645.6" y="103.4" font-size="8.2" font-family="'Liberation Sans', sans-serif" fill="#da1e1e">0.2</text>
<line x1="410.2" y1="87.25" x2="413.2" y2="87.25" stroke="#000" stroke-width="1.25"/>
<line x1="640" y1="87.25" x2="643" y2="87.25" stroke="#da1e1e" stroke-width="1.25"/>
<text x="407.6" y="90.15" font-size="8.2" font-family="'Liberation Sans', sans-serif" fill="#1a1a1a" text-anchor="end">0.4</text>
<text x="645.6" y="90.15" font-size="8.2" font-family="'Liberation Sans', sans-serif" fill="#da1e1e">0.4</text>
<line x1="410.2" y1="74" x2="413.2" y2="74" stroke="#000" stroke-width="1.25"/>
<line x1="640" y1="74" x2="643" y2="74" stroke="#da1e1e" stroke-width="1.25"/>
<text x="407.6" y="76.9" font-size="8.2" font-family="'Liberation Sans', sans-serif" fill="#1a1a1a" text-anchor="end">0.6</text>
<text x="645.6" y="76.9" font-size="8.2" font-family="'Liberation Sans', sans-serif" fill="#da1e1e">0.6</text>
<line x1="410.2" y1="60.75" x2="413.2" y2="60.75" stroke="#000" stroke-width="1.25"/>
<line x1="640" y1="60.75" x2="643" y2="60.75" stroke="#da1e1e" stroke-width="1.25"/>
<text x="407.6" y="63.65" font-size="8.2" font-family="'Liberation Sans', sans-serif" fill="#1a1a1a" text-anchor="end">0.8</text>
<text x="645.6" y="63.65" font-size="8.2" font-family="'Liberation Sans', sans-serif" fill="#da1e1e">0.8</text>
<line x1="410.2" y1="47.5" x2="413.2" y2="47.5" stroke="#000" stroke-width="1.25"/>
<line x1="640" y1="47.5" x2="643" y2="47.5" stroke="#da1e1e" stroke-width="1.25"/>
<text x="407.6" y="50.4" font-size="8.2" font-family="'Liberation Sans', sans-serif" fill="#1a1a1a" text-anchor="end">1.0</text>
<text x="645.6" y="50.4" font-size="8.2" font-family="'Liberation Sans', sans-serif" fill="#da1e1e">1.0</text>
<line x1="410.2" y1="34.25" x2="413.2" y2="34.25" stroke="#000" stroke-width="1.25"/>
<line x1="640" y1="34.25" x2="643" y2="34.25" stroke="#da1e1e" stroke-width="1.25"/>
<text x="407.6" y="37.15" font-size="8.2" font-family="'Liberation Sans', sans-serif" fill="#1a1a1a" text-anchor="end">1.2</text>
<text x="645.6" y="37.15" font-size="8.2" font-family="'Liberation Sans', sans-serif" fill="#da1e1e">1.2</text>
<line x1="410.2" y1="21" x2="413.2" y2="21" stroke="#000" stroke-width="1.25"/>
<line x1="640" y1="21" x2="643" y2="21" stroke="#da1e1e" stroke-width="1.25"/>
<text x="407.6" y="23.9" font-size="8.2" font-family="'Liberation Sans', sans-serif" fill="#1a1a1a" text-anchor="end">1.4</text>
<text x="645.6" y="23.9" font-size="8.2" font-family="'Liberation Sans', sans-serif" fill="#da1e1e">1.4</text>
<line x1="411.4" y1="199.88" x2="413.2" y2="199.88" stroke="#000" stroke-width="1.25"/>
<line x1="640" y1="199.88" x2="641.8" y2="199.88" stroke="#da1e1e" stroke-width="1.25"/>
<line x1="411.4" y1="186.62" x2="413.2" y2="186.62" stroke="#000" stroke-width="1.25"/>
<line x1="640" y1="186.62" x2="641.8" y2="186.62" stroke="#da1e1e" stroke-width="1.25"/>
<line x1="411.4" y1="173.38" x2="413.2" y2="173.38" stroke="#000" stroke-width="1.25"/>
<line x1="640" y1="173.38" x2="641.8" y2="173.38" stroke="#da1e1e" stroke-width="1.25"/>
<line x1="411.4" y1="160.12" x2="413.2" y2="160.12" stroke="#000" stroke-width="1.25"/>
<line x1="640" y1="160.12" x2="641.8" y2="160.12" stroke="#da1e1e" stroke-width="1.25"/>
<line x1="411.4" y1="146.88" x2="413.2" y2="146.88" stroke="#000" stroke-width="1.25"/>
<line x1="640" y1="146.88" x2="641.8" y2="146.88" stroke="#da1e1e" stroke-width="1.25"/>
<line x1="411.4" y1="133.62" x2="413.2" y2="133.62" stroke="#000" stroke-width="1.25"/>
<line x1="640" y1="133.62" x2="641.8" y2="133.62" stroke="#da1e1e" stroke-width="1.25"/>
<line x1="411.4" y1="120.38" x2="413.2" y2="120.38" stroke="#000" stroke-width="1.25"/>
<line x1="640" y1="120.38" x2="641.8" y2="120.38" stroke="#da1e1e" stroke-width="1.25"/>
<line x1="411.4" y1="107.12" x2="413.2" y2="107.12" stroke="#000" stroke-width="1.25"/>
<line x1="640" y1="107.12" x2="641.8" y2="107.12" stroke="#da1e1e" stroke-width="1.25"/>
<line x1="411.4" y1="93.88" x2="413.2" y2="93.88" stroke="#000" stroke-width="1.25"/>
<line x1="640" y1="93.88" x2="641.8" y2="93.88" stroke="#da1e1e" stroke-width="1.25"/>
<line x1="411.4" y1="80.62" x2="413.2" y2="80.62" stroke="#000" stroke-width="1.25"/>
<line x1="640" y1="80.62" x2="641.8" y2="80.62" stroke="#da1e1e" stroke-width="1.25"/>
<line x1="411.4" y1="67.38" x2="413.2" y2="67.38" stroke="#000" stroke-width="1.25"/>
<line x1="640" y1="67.38" x2="641.8" y2="67.38" stroke="#da1e1e" stroke-width="1.25"/>
<line x1="411.4" y1="54.12" x2="413.2" y2="54.12" stroke="#000" stroke-width="1.25"/>
<line x1="640" y1="54.12" x2="641.8" y2="54.12" stroke="#da1e1e" stroke-width="1.25"/>
<line x1="411.4" y1="40.88" x2="413.2" y2="40.88" stroke="#000" stroke-width="1.25"/>
<line x1="640" y1="40.88" x2="641.8" y2="40.88" stroke="#da1e1e" stroke-width="1.25"/>
<line x1="411.4" y1="27.62" x2="413.2" y2="27.62" stroke="#000" stroke-width="1.25"/>
<line x1="640" y1="27.62" x2="641.8" y2="27.62" stroke="#da1e1e" stroke-width="1.25"/>
<line x1="413.2" y1="209.7" x2="413.2" y2="212.7" stroke="#000" stroke-width="1.25"/>
<line x1="488.5" y1="209.7" x2="488.5" y2="212.7" stroke="#000" stroke-width="1.25"/>
<line x1="563.8" y1="209.7" x2="563.8" y2="212.7" stroke="#000" stroke-width="1.25"/>
<line x1="639.1" y1="209.7" x2="639.1" y2="212.7" stroke="#000" stroke-width="1.25"/>
<line x1="450.85" y1="209.7" x2="450.85" y2="211.5" stroke="#000" stroke-width="1.25"/>
<line x1="526.15" y1="209.7" x2="526.15" y2="211.5" stroke="#000" stroke-width="1.25"/>
<line x1="601.45" y1="209.7" x2="601.45" y2="211.5" stroke="#000" stroke-width="1.25"/>
<text x="413.2" y="222.5" font-size="8.3" font-family="'Liberation Sans', sans-serif" fill="#1a1a1a" text-anchor="middle">0.0</text>
<text x="488.5" y="223.7" font-size="8.3" font-family="'Liberation Sans', sans-serif" fill="#1a1a1a" text-anchor="middle">5.0×10<tspan dy="-0.45em" font-size="0.72em">−5</tspan></text>
<text x="563.8" y="223.7" font-size="8.3" font-family="'Liberation Sans', sans-serif" fill="#1a1a1a" text-anchor="middle">1.0×10<tspan dy="-0.45em" font-size="0.72em">−4</tspan></text>
<text x="639.1" y="223.7" font-size="8.3" font-family="'Liberation Sans', sans-serif" fill="#1a1a1a" text-anchor="middle">1.5×10<tspan dy="-0.45em" font-size="0.72em">−4</tspan></text>
<text x="515" y="230" font-size="8.3" font-family="'Liberation Sans', sans-serif" fill="#1a1a1a" text-anchor="middle">Time(s)</text>
<text x="425.4" y="13.9" font-size="9.3" font-family="'Liberation Sans', sans-serif" fill="#1a1a1a">a)</text>
<text transform="translate(387.5,111.8) rotate(-90)" x="0" y="0" text-anchor="middle" font-family="&apos;Liberation Serif&apos;, serif" font-size="10" fill="#333" textLength="45.6" lengthAdjust="spacingAndGlyphs"><tspan font-style="italic">U</tspan>(<tspan font-style="italic">t</tspan>)(<tspan font-style="italic">m</tspan><tspan dx="0.1em">/</tspan><tspan font-style="italic" dx="0.1em">s</tspan>)</text>
<text transform="translate(673,112.8) rotate(-90)" x="0" y="0" text-anchor="middle" font-family="&apos;Liberation Serif&apos;, serif" font-size="10" fill="#e03636" textLength="70.8" lengthAdjust="spacingAndGlyphs">&lt; <tspan font-style="italic">v</tspan>(<tspan font-style="italic">t</tspan>) &gt;<tspan font-style="italic" font-size="0.7em" dy="0.25em">s</tspan><tspan dy="-0.18em"> (</tspan><tspan font-style="italic">m</tspan><tspan dx="0.1em">/</tspan><tspan font-style="italic" dx="0.1em">s</tspan>)</text>
<path d="M413.2 113.8L413.4 109.7L413.7 105.4L413.9 100.9L414.2 96.2L414.4 91.2L414.6 88.6L414.7 86L414.8 83.3L414.9 80.6L415.1 77.8L415.2 74.9L415.3 71.9L415.4 68.9L415.6 65.8L415.7 62.6L415.8 59.1L415.9 55.3L416 51.2L416.2 47.1L416.3 43.1L416.4 39.4L416.5 36.2L416.7 33.5L416.8 30.7L416.9 28L417.2 23.5L417.4 21.8L417.8 25.8L418 31.1L418.2 34L418.3 37.1L418.4 40.9L418.5 45.4L418.7 50.5L418.8 56.1L418.9 64.6L419 69.4L419.1 74.4L419.2 79.5L419.3 84.7L419.4 90.1L419.5 95.5L419.5 100.9L419.6 106.4L419.7 111.9L419.8 117.4L419.9 122.9L420 128.4L420.1 133.7L420.2 139L420.3 144.2L420.4 149.3L420.5 154.2L420.6 159L420.7 163.6L420.7 168L420.8 172.1L420.9 176.1L421 179.8L421.1 183.2L421.2 186.4L421.3 189.3L421.4 192L421.6 196.3L421.8 199.4L422.1 201.6L422.5 198.6L422.7 195.2L422.9 190.5L423 187.8L423 184.8L423.1 181.5L423.2 177.9L423.3 174.2L423.4 170.2L423.5 166L423.6 161.6L423.7 157.1L423.8 152.3L423.9 147.5L424 142.5L424.1 137.5L424.2 132.3L424.2 127.1L424.3 121.9L424.4 116.6L424.5 111.4L424.6 106.1L424.7 100.9L424.8 95.7L424.9 90.7L425 85.7L425.1 80.8L425.2 76.1L425.3 71.5L425.4 67.1L425.4 62.9L425.5 58.8L425.6 55L425.7 51.4L425.8 48.1L425.9 45L426 42.1L426.1 39.6L426.3 35.3L426.5 32.2L426.8 29.8L427.2 32.4L427.4 35.6L427.6 39.9L427.7 42.5L427.7 45.3L427.8 48.4L427.9 51.7L428 55.2L428.1 59L428.2 63L428.3 67.1L428.4 71.4L428.5 75.9L428.6 80.5L428.7 85.2L428.8 90L428.9 94.9L428.9 99.9L429 104.9L429.1 109.9L429.2 115L429.3 120L429.4 125L429.5 129.9L429.6 134.8L429.7 139.6L429.8 144.2L429.9 148.8L430 153.2L430.1 157.4L430.1 161.5L430.2 165.4L430.3 169.1L430.4 172.6L430.5 175.8L430.6 178.9L430.7 181.6L430.8 184.1L431 188.3L431.2 191.4L431.5 193.9L432 190.4L432.2 186.9L432.4 182.4L432.4 179.7L432.5 176.8L432.6 173.7L432.7 170.4L432.8 166.8L432.9 163.1L433 159.1L433.1 155.1L433.2 150.8L433.3 146.4L433.4 142L433.5 137.4L433.6 132.7L433.6 128L433.7 123.2L433.8 118.4L433.9 113.6L434 108.8L434.1 104L434.2 99.3L434.3 94.7L434.4 90.1L434.5 85.6L434.6 81.2L434.7 77L434.8 72.9L434.8 68.9L434.9 65.2L435 61.6L435.1 58.2L435.2 55.1L435.3 52.2L435.4 49.5L435.6 44.8L435.8 41.2L436 37.9L436.2 37.2L436.7 40.3L436.9 43.4L437.1 47.7L437.2 52.9L437.3 55.8L437.4 59L437.5 62.3L437.6 65.9L437.7 69.6L437.8 73.4L437.9 77.5L438 81.6L438.1 85.9L438.2 90.2L438.3 94.7L438.3 99.2L438.4 103.7L438.5 108.3L438.6 112.9L438.7 117.5L438.8 122.1L438.9 126.6L439 131.1L439.1 135.4L439.2 139.8L439.3 144L439.4 148L439.5 152L439.5 155.8L439.6 159.4L439.7 162.9L439.8 166.1L439.9 169.2L440 172L440.1 174.6L440.3 179.2L440.5 182.7L440.7 186L441 186.9L441.4 184.2L441.6 181.3L441.8 177.4L441.9 172.5L442 169.7L442.1 166.8L442.2 163.6L442.3 160.3L442.4 156.7L442.5 153.1L442.6 149.3L442.7 145.3L442.8 141.3L442.9 137.1L443 132.9L443 128.6L443.1 124.3L443.2 119.9L443.3 115.5L443.4 111.1L443.5 106.7L443.6 102.4L443.7 98.1L443.8 93.9L443.9 89.8L444 85.7L444.1 81.8L444.2 78L444.2 74.4L444.3 70.9L444.4 67.5L444.5 64.4L444.6 61.4L444.7 58.6L444.8 56.1L445 51.7L445.2 48.2L445.4 44.8L445.7 43.8L446.2 47.4L446.4 50.6L446.5 54.7L446.7 59.7L446.8 62.5L446.9 65.5L447 68.6L447.1 71.9L447.2 75.4L447.3 79L447.4 82.8L447.5 86.6L447.6 90.6L447.7 94.6L447.7 98.7L447.8 102.8L447.9 107L448 111.2L448.1 115.4L448.2 119.6L448.3 123.7L448.4 127.8L448.5 131.9L448.6 135.8L448.7 139.7L448.8 143.5L448.9 147.1L448.9 150.7L449 154L449.1 157.3L449.2 160.3L449.3 163.2L449.4 165.9L449.6 170.6L449.8 174.5L450 177.5L450.2 180.1L450.4 180.6L450.9 177.4L451.1 174.5L451.2 170.7L451.4 166L451.5 163.3L451.6 160.5L451.7 157.5L451.8 154.4L451.9 151.1L452 147.7L452.1 144.1L452.2 140.5L452.3 136.7L452.4 132.9L452.4 129L452.5 125L452.6 121.1L452.7 117.1L452.8 113L452.9 109.1L453 105.1L453.1 101.1L453.2 97.3L453.3 93.5L453.4 89.7L453.5 86.1L453.6 82.6L453.6 79.2L453.7 75.9L453.8 72.8L453.9 69.9L454 67.1L454.1 64.5L454.3 59.8L454.5 56L454.7 53.1L454.9 50.5L455.1 49.9L455.6 52.6L455.8 55.3L455.9 58.9L456.1 63.3L456.3 68.5L456.4 71.3L456.5 74.3L456.6 77.4L456.7 80.6L456.8 84L456.9 87.5L457 91L457.1 94.7L457.1 98.4L457.2 102.2L457.3 106L457.4 109.8L457.5 113.6L457.6 117.4L457.7 121.2L457.8 125L457.9 128.7L458 132.4L458.1 136L458.2 139.4L458.3 142.8L458.3 146.1L458.4 149.3L458.5 152.3L458.6 155.1L458.7 157.8L458.8 160.3L459 164.8L459.2 168.6L459.4 171.4L459.6 174.1L459.8 174.8L460.3 172.4L460.5 169.9L460.7 166.5L460.8 162.4L461 157.6L461.1 154.9L461.2 152.1L461.3 149.2L461.4 146.1L461.5 142.9L461.6 139.6L461.7 136.2L461.8 132.7L461.8 129.2L461.9 125.6L462 122L462.1 118.3L462.2 114.7L462.3 111L462.4 107.4L462.5 103.8L462.6 100.2L462.7 96.7L462.8 93.2L462.9 89.9L463 86.6L463 83.5L463.1 80.4L463.2 77.5L463.3 74.8L463.4 72.2L463.6 67.4L463.8 63.4L464 60.2L464.2 56.8L464.6 55.4L465.1 58.5L465.3 61.3L465.4 64.7L465.6 69L465.8 73.8L465.9 76.5L466 79.3L466.1 82.2L466.2 85.2L466.3 88.4L466.4 91.6L466.5 94.9L466.5 98.3L466.6 101.7L466.7 105.1L466.8 108.6L466.9 112.1L467 115.6L467.1 119.1L467.2 122.6L467.3 126L467.4 129.4L467.5 132.7L467.6 135.9L467.7 139L467.7 142.1L467.8 145L467.9 147.8L468 150.5L468.1 153L468.3 157.6L468.5 161.5L468.7 164.7L468.9 168L469.3 169.5L469.8 166.8L470 164.3L470.1 161L470.3 157L470.5 152.4L470.6 149.9L470.7 147.3L470.8 144.5L470.9 141.6L471 138.7L471.1 135.6L471.2 132.5L471.2 129.3L471.3 126L471.4 122.7L471.5 119.4L471.6 116L471.7 112.7L471.8 109.3L471.9 106L472 102.7L472.1 99.5L472.2 96.3L472.3 93.2L472.4 90.2L472.4 87.3L472.5 84.5L472.6 81.8L472.7 79.2L472.9 74.4L473.1 70.3L473.3 66.8L473.5 64.1L473.7 61.4L474 60.4L474.5 62.9L474.8 66.6L474.9 70L475.1 74L475.3 78.6L475.4 81.1L475.5 83.8L475.6 86.5L475.7 89.3L475.8 92.2L475.9 95.2L475.9 98.3L476 101.4L476.1 104.5L476.2 107.7L476.3 110.9L476.4 114.1L476.5 117.3L476.6 120.5L476.7 123.6L476.8 126.7L476.9 129.8L477 132.7L477.1 135.6L477.1 138.5L477.2 141.2L477.3 143.8L477.5 148.6L477.7 153L477.9 156.7L478.1 159.7L478.3 163L478.7 164.7L479.2 162.6L479.5 159.1L479.6 156L479.8 152.2L480 147.8L480.2 143L480.3 140.4L480.4 137.7L480.5 134.9L480.6 132.1L480.6 129.2L480.7 126.2L480.8 123.2L480.9 120.2L481 117.1L481.1 114.1L481.2 111L481.3 108L481.4 105L481.5 102L481.6 99.1L481.7 96.2L481.8 93.4L481.8 90.7L481.9 88.1L482 85.6L482.2 80.9L482.4 76.7L482.6 73L482.8 70.1L483 66.8L483.4 65L483.9 66.8L484.2 70.1L484.3 73L484.5 76.6L484.7 80.7L484.9 85.3L485.1 90.3L485.2 92.9L485.3 95.6L485.3 98.4L485.4 101.2L485.5 104.1L485.6 107L485.7 109.9L485.8 112.8L485.9 115.7L486 118.7L486.1 121.5L486.2 124.4L486.3 127.2L486.4 130L486.5 132.6L486.5 135.3L486.6 137.8L486.8 142.5L487 146.8L487.2 150.6L487.4 153.9L487.6 156.5L487.8 159.2L488.2 160.4L488.7 157.9L488.9 154.5L489.1 151.4L489.3 147.8L489.5 143.7L489.7 139.1L489.9 134.2L490 131.6L490.1 129L490.1 126.3L490.2 123.6L490.3 120.8L490.4 118L490.5 115.2L490.6 112.4L490.7 109.7L490.8 106.9L490.9 104.2L491 101.5L491.1 98.8L491.2 96.2L491.2 93.7L491.4 88.9L491.6 84.5L491.8 80.6L492 77.2L492.2 74.3L492.4 71.2L492.9 69.1L493.4 71.3L493.6 74.5L493.8 77.4L494 80.8L494.2 84.7L494.4 89L494.6 93.7L494.8 98.6L494.8 101.2L494.9 103.8L495 106.4L495.1 109.1L495.2 111.8L495.3 114.4L495.4 117.1L495.5 119.8L495.6 122.4L495.7 125L495.8 127.5L495.9 132.4L496.1 137L496.3 141.3L496.5 145.1L496.7 148.4L496.9 151.2L497.1 154.3L497.6 156.4L498.1 154.5L498.3 151.6L498.5 148.9L498.7 145.7L498.9 142L499.1 137.9L499.3 133.5L499.5 128.7L499.6 123.8L499.7 121.3L499.8 118.8L499.9 116.2L500 113.6L500.1 111.1L500.2 108.5L500.3 106L500.5 101.1L500.6 96.4L500.8 91.9L501 87.8L501.2 84.2L501.4 80.9L501.6 78.2L501.8 75.1L502.3 72.9L502.8 74.6L503 77.3L503.2 79.9L503.4 82.9L503.6 86.3L503.8 90.2L504 94.4L504.2 98.9L504.3 103.6L504.5 108.4L504.7 113.3L504.9 118.2L505.1 123L505.3 127.7L505.4 132.1L505.6 136.2L505.8 140L506 143.3L506.2 146.3L506.5 149.7L506.8 152.3L507.1 152.8L507.6 150.6L507.8 147.7L508 145.1L508.2 142L508.4 138.6L508.6 134.7L508.8 130.6L508.9 126.2L509.1 121.6L509.3 117L509.5 112.3L509.7 107.7L509.9 103.1L510 98.8L510.2 94.6L510.4 90.8L510.6 87.3L510.8 84.3L511 81.7L511.2 78.7L511.7 76.4L511.8 76.4L512.3 78.3L512.5 81L512.8 84.9L513 88L513.2 91.4L513.4 95.2L513.6 99.3L513.7 103.5L513.9 107.9L514.1 112.4L514.3 116.9L514.5 121.3L514.7 125.6L514.8 129.7L515 133.5L515.2 137.1L515.4 140.2L515.6 143L515.9 146.3L516.2 148.9L516.5 149.5L517 147.8L517.2 145.3L517.5 141.7L517.7 138.8L517.9 135.5L518.1 131.9L518.3 128L518.4 124L518.6 119.8L518.8 115.5L519 111.2L519.2 107L519.4 102.9L519.5 98.9L519.7 95.2L519.9 91.8L520.1 88.7L520.3 86L520.6 82.8L520.9 80.2L521.2 79.5L521.7 81L522 84.4L522.3 88.1L522.5 91L522.7 94.3L522.9 97.8L523 101.6L523.2 105.5L523.4 109.6L523.6 113.7L523.8 117.8L524 121.8L524.2 125.7L524.3 129.4L524.5 132.8L524.7 136L524.9 138.8L525.2 142.2L525.5 145.3L525.9 146.5L526.4 145.2L526.7 142.1L527 138.6L527.2 135.8L527.4 132.7L527.6 129.4L527.7 125.8L527.9 122L528.1 118.1L528.3 114.2L528.5 110.3L528.7 106.4L528.9 102.7L529 99.2L529.2 95.8L529.4 92.8L529.6 90.1L529.9 86.7L530.2 83.6L530.7 82.4L531.2 84.1L531.5 87.4L531.8 91L532 93.7L532.2 96.8L532.4 100.1L532.5 103.6L532.7 107.3L532.9 111L533.1 114.8L533.3 118.5L533.5 122.2L533.6 125.7L533.8 129L534 132.1L534.2 134.9L534.5 138.4L534.7 141.2L535.2 143.6L535.4 143.8L535.9 142.3L536.2 139.2L536.5 135.8L536.7 133.2L536.9 130.3L537.1 127.1L537.2 123.8L537.4 120.3L537.6 116.8L537.8 113.1L538 109.6L538.2 106.1L538.3 102.7L538.5 99.5L538.7 96.5L538.9 93.8L539.2 90.3L539.4 87.7L539.9 85.2L540.1 85L540.6 86.3L540.9 89.2L541.2 92.3L541.5 96.2L541.7 99.1L541.8 102.2L542 105.4L542.2 108.8L542.4 112.2L542.6 115.7L542.8 119.1L543 122.4L543.1 125.6L543.3 128.6L543.5 131.3L543.8 134.9L544.1 137.8L544.4 140.3L544.8 141.3L545.3 140.1L545.6 137.4L545.9 134.5L546.2 130.9L546.4 128.1L546.5 125.2L546.7 122.1L546.9 118.8L547.1 115.6L547.3 112.3L547.5 109L547.7 105.8L547.8 102.7L548 99.9L548.2 97.2L548.5 93.7L548.8 90.9L549.1 88.4L549.5 87.4L550 88.4L550.4 91.7L550.7 94.7L551 98.4L551.2 101.1L551.3 104L551.5 107L551.7 110.1L551.9 113.3L552.1 116.4L552.3 119.5L552.4 122.5L552.6 125.4L552.8 128.1L553.1 131.7L553.4 134.6L553.7 137.5L554.2 139L554.3 139L554.7 137.7L555.1 135L555.4 132.2L555.7 128.7L555.9 126.2L556 123.4L556.2 120.5L556.4 117.6L556.6 114.5L556.8 111.5L557 108.5L557.1 105.6L557.3 102.9L557.5 100.3L557.8 96.8L558.1 93.9L558.4 91.1L558.9 89.6L559 89.6L559.4 90.7L559.9 94L560.2 96.9L560.5 100.3L560.6 102.9L560.8 105.6L561 108.4L561.2 111.2L561.4 114.1L561.6 117L561.8 119.9L561.9 122.6L562.1 125.2L562.4 128.7L562.7 131.7L563 134.7L563.5 136.7L563.7 136.9L564.1 135.9L564.6 132.8L564.9 130.1L565.2 126.8L565.4 123.2L565.6 120.6L565.8 117.8L566 115.1L566.2 112.3L566.4 109.5L566.5 106.9L566.7 104.3L567 100.8L567.3 97.7L567.6 95.1L568 92.3L568.4 91.6L568.8 92.5L569.3 95.3L569.6 97.9L569.9 101L570.1 104.5L570.3 107L570.5 109.6L570.7 112.2L570.9 114.9L571.1 117.5L571.2 120.1L571.5 123.7L571.8 127L572.1 129.9L572.4 132.8L572.9 134.7L573.2 135L573.6 133.8L574.1 130.8L574.4 128.2L574.7 125.2L574.9 121.7L575.2 118L575.4 115.5L575.6 113L575.8 110.4L576 106.7L576.3 103.3L576.6 100.3L576.9 97.7L577.2 95.1L577.7 93.5L577.9 93.4L578.3 94.4L578.8 97.2L579.2 100.6L579.4 103.7L579.7 107L580 110.6L580.3 114.3L580.6 117.9L580.8 121.4L581.1 124.5L581.4 127.4L581.8 130.4L582.2 132.7L582.6 133.3L583 132.4L583.5 129.7L583.9 126.5L584.1 123.6L584.4 120.4L584.7 117L585 113.5L585.3 110L585.5 106.7L585.8 103.6L586.1 100.9L586.5 98L586.9 95.7L587.3 95L587.7 95.9L588.2 98.3L588.6 101.3L588.8 104.1L589.1 107.1L589.4 110.4L589.7 113.7L590 117.1L590.2 120.3L590.5 123.3L590.8 125.9L591.2 128.8L591.6 131L592 131.7L592.4 131L592.9 128.7L593.3 125.8L593.5 123.2L593.8 120.3L594.1 117.2L594.4 114L594.7 110.8L594.9 107.7L595.2 104.8L595.5 102.3L595.9 99.5L596.3 97.2L596.8 96.6L597.2 97.5L597.7 99.9L598.1 102.8L598.3 105.4L598.6 108.2L598.9 111.2L599.2 114.3L599.4 117.4L599.7 120.3L600 123L600.4 126L600.8 128.8L601.3 130.1L601.5 130.2L601.9 129.4L602.4 127.1L602.8 124.4L603.1 121.1L603.4 118.3L603.7 115.4L604 112.4L604.2 109.5L604.5 106.8L604.8 104.3L605.2 101.5L605.6 99L606.1 98L606.2 98L606.6 98.7L607.1 100.8L607.5 103.4L607.8 106.5L608.1 109.2L608.4 112L608.7 114.8L608.9 117.6L609.2 120.3L609.6 123.4L610 126L610.4 128.1L610.9 128.9L611.3 128.3L611.8 126.3L612.3 123.2L612.6 120L612.9 117.4L613.2 114.7L613.5 112L613.7 109.4L614.1 106.1L614.5 103.3L614.9 100.7L615.4 99.4L615.6 99.2L616 99.8L616.5 101.6L617 104.6L617.3 107.6L617.7 110.9L618 113.5L618.2 116.1L618.5 118.6L618.9 121.7L619.3 124.2L619.7 126.5L620.2 127.6L620.4 127.7L620.8 126.9L621.3 125L621.8 122L622.1 119.1L622.5 115.8L622.8 113.3L623.1 110.1L623.5 107L623.9 104.4L624.3 101.9L624.8 100.6L625.1 100.4L625.5 101L626 102.9L626.5 105.7L626.8 108.5L627.2 111.6L627.6 114.8L627.9 117.9L628.3 120.8L628.8 123.7L629.2 125.7L629.7 126.5L629.8 126.6L630.2 126L630.7 124.3L631.2 121.6L631.5 119L631.9 116L632.3 112.9L632.6 109.9L633 107.2L633.5 104.3L633.9 102.4L634.4 101.5L634.5 101.5L634.9 102L635.4 103.5L635.9 106.1L636.2 108.6L636.6 111.4L637 114.4L637.3 117.3L637.7 119.9L638.2 122.7L638.6 124.6L639.1 125.5L639.3 125.5L639.7 124.9L640 124" fill="none" stroke="#000" stroke-width="1.2" stroke-linejoin="round" stroke-linecap="round"/>
<path d="M413.3 113.8L413.4 92L413.5 74.8L413.7 63.9L413.8 54.7L413.9 48.7L414.4 47.5L414.9 47.4L415.3 47.4L415.7 51.6L415.8 55.4L415.9 59.6L416 63.7L416.2 69.1L416.3 75.4L416.4 81.5L416.5 86.5L416.7 89.8L416.8 92.6L416.9 95.2L417.2 99.5L417.4 103L417.7 105.8L417.9 108.4L418.3 111.6L418.8 113.1L419.3 113.6L419.8 113.7L419.9 113.8L420 113.8L420.2 113.8L420.3 113.8L420.4 113.8L420.5 113.8L420.7 113.8L420.8 113.8L420.9 113.8L421 113.8L421.2 113.8L421.3 113.8L421.4 113.8L421.5 113.8L421.7 113.8L421.8 113.8L421.9 113.8L422 113.8L422.2 113.8L422.3 113.8L422.4 113.8L422.5 113.8L422.7 113.8L422.8 113.8L422.9 113.8L423 113.8L423.2 113.8L423.3 113.8L423.4 113.8L423.5 113.8L423.7 113.8L423.8 113.8L423.9 113.8L424 113.8L424.2 113.8L424.3 113.8L424.4 113.8L424.5 113.8L424.7 113.8L424.8 113.8L424.9 113.8L425 113.8L425.2 113.8L425.3 113.8L425.4 113.8L425.5 113.8L425.7 113.8L425.8 113.8L425.9 113.8L426 113.8L426.2 113.8L426.3 113.8L426.4 113.8L426.5 113.8L426.7 113.8L426.8 113.8L426.9 113.8L427 113.8L427.2 113.8L427.3 113.8L427.4 113.8L427.5 113.8L427.7 113.8L427.8 113.8L427.9 113.8L428 113.8L428.2 113.8L428.3 113.8L428.4 113.8L428.5 113.8L428.7 113.8L428.8 113.8L428.9 113.8L429 113.8L429.2 113.8L429.3 113.8L429.4 113.8L429.5 113.8L429.7 113.8L429.8 113.8L429.9 113.8L430 113.8L430.2 113.8L430.3 113.8L430.4 113.8L430.5 113.8L430.7 113.8L430.8 113.8L430.9 113.8L431 113.8L431.2 113.8L431.3 113.8L431.4 113.8L431.5 113.8L431.7 113.8L431.8 113.8L431.9 113.8L432 113.8L432.2 113.8L432.3 113.8L432.4 113.8L432.5 113.8L432.7 113.8L432.8 113.8L432.9 113.8L433 113.8L433.2 113.8L433.3 113.8L433.4 113.8L433.5 113.8L433.7 113.8L433.8 113.8L433.9 113.8L434 113.8L434.2 113.8L434.3 113.8L434.4 113.8L434.5 113.8L434.7 113.8L434.8 113.8L434.9 113.8L435 113.8L435.2 113.8L435.3 113.8L435.4 113.8L435.5 113.8L435.7 113.8L435.8 113.8L435.9 113.8L436 113.8L436.2 113.8L436.3 113.8L436.4 113.8L436.5 113.8L436.7 113.8L436.8 113.8L436.9 113.8L437 113.8L437.2 113.8L437.3 113.8L437.4 113.8L437.5 113.8L437.7 113.8L437.8 113.8L437.9 113.8L438 113.8L438.2 113.8L438.3 113.8L438.4 113.8L438.5 113.8L438.7 113.8L438.8 113.8L438.9 113.8L439 113.8L439.2 113.8L439.3 113.8L439.4 113.8L439.5 113.8L439.7 113.8L439.8 113.8L439.9 113.8L440 113.8L440.2 113.8L440.3 113.8L440.4 113.8L440.5 113.8L440.7 113.8L440.8 113.8L440.9 113.8L441 113.8L441.2 113.8L441.3 113.8L441.4 113.8L441.5 113.8L441.7 113.8L441.8 113.8L441.9 113.8L442 113.8L442.2 113.8L442.3 113.8L442.4 113.8L442.5 113.8L442.7 113.8L442.8 113.8L442.9 113.8L443 113.8L443.2 113.8L443.3 113.8L443.4 113.8L443.5 113.8L443.7 113.8L443.8 113.8L443.9 113.8L444 113.8L444.2 113.8L444.3 113.8L444.4 113.8L444.5 113.8L444.7 113.8L444.8 113.8L444.9 113.8L445 113.8L445.2 113.8L445.3 113.8L445.4 113.8L445.5 113.8L445.7 113.8L445.8 113.8L445.9 113.8L446 113.8L446.2 113.8L446.3 113.8L446.4 113.8L446.5 113.8L446.7 113.8L446.8 113.8L446.9 113.8L447 113.8L447.2 113.8L447.3 113.8L447.4 113.8L447.5 113.8L447.7 113.8L447.8 113.8L447.9 113.8L448 113.8L448.2 113.8L448.3 113.8L448.4 113.8L448.5 113.8L448.7 113.8L448.8 113.8L448.9 113.8L449 113.8L449.2 113.8L449.3 113.8L449.4 113.8L449.5 113.8L449.7 113.8L449.8 113.8L449.9 113.8L450 113.8L450.2 113.8L450.3 113.8L450.4 113.8L450.5 113.8L450.7 113.8L450.8 113.8L450.9 113.8L451 113.8L451.2 113.8L451.3 113.8L451.4 113.8L451.5 113.8L451.7 113.8L451.8 113.8L451.9 113.8L452 113.8L452.2 113.8L452.3 113.8L452.4 113.8L452.5 113.8L452.7 113.8L452.8 113.8L452.9 113.8L453 113.8L453.2 113.8L453.3 113.8L453.4 113.8L453.5 113.8L453.7 113.8L453.8 113.8L453.9 113.8L454 113.8L454.2 113.8L454.3 113.8L454.4 113.8L454.5 113.8L454.7 113.8L454.8 113.8L454.9 113.8L455 113.8L455.2 113.8L455.3 113.8L455.4 113.8L455.5 113.8L455.7 113.8L455.8 113.8L455.9 113.8L456 113.8L456.2 113.8L456.3 113.8L456.4 113.8L456.5 113.8L456.7 113.8L456.8 113.8L456.9 113.8L457 113.8L457.2 113.8L457.3 113.8L457.4 113.8L457.5 113.8L457.7 113.8L457.8 113.8L457.9 113.8L458 113.8L458.2 113.8L458.3 113.8L458.4 113.8L458.5 113.8L458.7 113.8L458.8 113.8L458.9 113.8L459 113.8L459.2 113.8L459.3 113.8L459.4 113.8L459.5 113.8L459.7 113.8L459.8 113.8L459.9 113.8L460 113.8L460.2 113.8L460.3 113.8L460.4 113.8L460.5 113.8L460.7 113.8L460.8 113.8L460.9 113.8L461 113.8L461.2 113.8L461.3 113.8L461.4 113.8L461.5 113.8L461.7 113.8L461.8 113.8L461.9 113.8L462 113.8L462.2 113.8L462.3 113.8L462.4 113.8L462.5 113.8L462.7 113.8L462.8 113.8L462.9 113.8L463 113.8L463.2 113.8L463.3 113.8L463.4 113.8L463.5 113.8L463.7 113.8L463.8 113.8L463.9 113.8L464 113.8L464.2 113.8L464.3 113.8L464.4 113.8L464.5 113.8L464.7 113.8L464.8 113.8L464.9 113.8L465 113.8L465.2 113.8L465.3 113.8L465.4 113.8L465.5 113.8L465.7 113.8L465.8 113.8L465.9 113.8L466 113.8L466.2 113.8L466.3 113.8L466.4 113.8L466.5 113.8L466.7 113.8L466.8 113.8L466.9 113.8L467 113.8L467.2 113.8L467.3 113.8L467.4 113.8L467.5 113.8L467.7 113.8L467.8 113.8L467.9 113.8L468 113.8L468.2 113.8L468.3 113.8L468.4 113.8L468.5 113.8L468.7 113.8L468.8 113.8L468.9 113.8L469 113.8L469.2 113.8L469.3 113.8L469.4 113.8L469.5 113.8L469.7 113.8L469.8 113.8L469.9 113.8L470 113.8L470.2 113.8L470.3 113.8L470.4 113.8L470.5 113.8L470.7 113.8L470.8 113.8L470.9 113.8L471 113.8L471.2 113.8L471.3 113.8L471.4 113.8L471.5 113.8L471.7 113.8L471.8 113.8L471.9 113.8L472 113.8L472.2 113.8L472.3 113.8L472.4 113.8L472.5 113.8L472.7 113.8L472.8 113.8L472.9 113.8L473 113.8L473.2 113.8L473.3 113.8L473.4 113.8L473.5 113.8L473.7 113.8L473.8 113.8L473.9 113.8L474 113.8L474.2 113.8L474.3 113.8L474.4 113.8L474.5 113.8L474.7 113.8L474.8 113.8L474.9 113.8L475 113.8L475.2 113.8L475.3 113.8L475.4 113.8L475.5 113.8L475.7 113.8L475.8 113.8L475.9 113.8L476 113.8L476.2 113.8L476.3 113.8L476.4 113.8L476.5 113.8L476.7 113.8L476.8 113.8L476.9 113.8L477 113.8L477.2 113.8L477.3 113.8L477.4 113.8L477.5 113.8L477.7 113.8L477.8 113.8L477.9 113.8L478 113.8L478.2 113.8L478.3 113.8L478.4 113.8L478.5 113.8L478.7 113.8L478.8 113.8L478.9 113.8L479 113.8L479.2 113.8L479.3 113.8L479.4 113.8L479.5 113.8L479.7 113.8L479.8 113.8L479.9 113.8L480 113.8L480.2 113.8L480.3 113.8L480.4 113.8L480.5 113.8L480.7 113.8L480.8 113.8L480.9 113.8L481 113.8L481.2 113.8L481.3 113.8L481.4 113.8L481.5 113.8L481.7 113.8L481.8 113.8L481.9 113.8L482 113.8L482.2 113.8L482.3 113.8L482.4 113.8L482.5 113.8L482.7 113.8L482.8 113.8L482.9 113.8L483 113.8L483.2 113.8L483.3 113.8L483.4 113.8L483.5 113.8L483.7 113.8L483.8 113.8L483.9 113.8L484 113.8L484.2 113.8L484.3 113.8L484.4 113.8L484.5 113.8L484.7 113.8L484.8 113.8L484.9 113.8L485 113.8L485.2 113.8L485.3 113.8L485.4 113.8L485.5 113.8L485.7 113.8L485.8 113.8L485.9 113.8L486 113.8L486.2 113.8L486.3 113.8L486.4 113.8L486.5 113.8L486.7 113.8L486.8 113.8L486.9 113.8L487 113.8L487.2 113.8L487.3 113.8L487.4 113.8L487.5 113.8L487.7 113.8L487.8 113.8L487.9 113.8L488 113.8L488.2 113.8L488.3 113.8L488.4 113.8L488.5 113.8L488.6 113.8L488.8 113.8L488.9 113.8L489 113.8L489.1 113.8L489.3 113.8L489.4 113.8L489.5 113.8L489.6 113.8L489.8 113.8L489.9 113.8L490 113.8L490.1 113.8L490.3 113.8L490.4 113.8L490.5 113.8L490.6 113.8L490.8 113.8L490.9 113.8L491 113.8L491.1 113.8L491.3 113.8L491.4 113.8L491.5 113.8L491.6 113.8L491.8 113.8L491.9 113.8L492 113.8L492.1 113.8L492.3 113.8L492.4 113.8L492.5 113.8L492.6 113.8L492.8 113.8L492.9 113.8L493 113.8L493.1 113.8L493.3 113.8L493.4 113.8L493.5 113.8L493.6 113.8L493.8 113.8L493.9 113.8L494 113.8L494.1 113.8L494.3 113.8L494.4 113.8L494.5 113.8L494.6 113.8L494.8 113.8L494.9 113.8L495 113.8L495.1 113.8L495.3 113.8L495.4 113.8L495.5 113.8L495.6 113.8L495.8 113.8L495.9 113.8L496 113.8L496.1 113.8L496.3 113.8L496.4 113.8L496.5 113.8L496.6 113.8L496.8 113.8L496.9 113.8L497 113.8L497.1 113.8L497.3 113.8L497.4 113.8L497.5 113.8L497.6 113.8L497.8 113.8L497.9 113.8L498 113.8L498.1 113.8L498.3 113.8L498.4 113.8L498.5 113.8L498.6 113.8L498.8 113.8L498.9 113.8L499 113.8L499.1 113.8L499.3 113.8L499.4 113.8L499.5 113.8L499.6 113.8L499.8 113.8L499.9 113.8L500 113.8L500.1 113.8L500.3 113.8L500.4 113.8L500.5 113.8L500.6 113.8L500.8 113.8L500.9 113.8L501 113.8L501.1 113.8L501.3 113.8L501.4 113.8L501.5 113.8L501.6 113.8L501.8 113.8L501.9 113.8L502 113.8L502.1 113.8L502.3 113.8L502.4 113.8L502.5 113.8L502.6 113.8L502.8 113.8L502.9 113.8L503 113.8L503.1 113.8L503.3 113.8L503.4 113.8L503.5 113.8L503.6 113.8L503.8 113.8L503.9 113.8L504 113.8L504.1 113.8L504.3 113.8L504.4 113.8L504.5 113.8L504.6 113.8L504.8 113.8L504.9 113.8L505 113.8L505.1 113.8L505.3 113.8L505.4 113.8L505.5 113.8L505.6 113.8L505.8 113.8L505.9 113.8L506 113.8L506.1 113.8L506.3 113.8L506.4 113.8L506.5 113.8L506.6 113.8L506.8 113.8L506.9 113.8L507 113.8L507.1 113.8L507.3 113.8L507.4 113.8L507.5 113.8L507.6 113.8L507.8 113.8L507.9 113.8L508 113.8L508.1 113.8L508.3 113.8L508.4 113.8L508.5 113.8L508.6 113.8L508.8 113.8L508.9 113.8L509 113.8L509.1 113.8L509.3 113.8L509.4 113.8L509.5 113.8L509.6 113.8L509.8 113.8L509.9 113.8L510 113.8L510.1 113.8L510.3 113.8L510.4 113.8L510.5 113.8L510.6 113.8L510.8 113.8L510.9 113.8L511 113.8L511.1 113.8L511.3 113.8L511.4 113.8L511.5 113.8L511.6 113.8L511.8 113.8L511.9 113.8L512 113.8L512.1 113.8L512.3 113.8L512.4 113.8L512.5 113.8L512.6 113.8L512.8 113.8L512.9 113.8L513 113.8L513.1 113.8L513.3 113.8L513.4 113.8L513.5 113.8L513.6 113.8L513.8 113.8L513.9 113.8L514 113.8L514.1 113.8L514.3 113.8L514.4 113.8L514.5 113.8L514.6 113.8L514.8 113.8L514.9 113.8L515 113.8L515.1 113.8L515.3 113.8L515.4 113.8L515.5 113.8L515.6 113.8L515.8 113.8L515.9 113.8L516 113.8L516.1 113.8L516.3 113.8L516.4 113.8L516.5 113.8L516.6 113.8L516.8 113.8L516.9 113.8L517 113.8L517.1 113.8L517.3 113.8L517.4 113.8L517.5 113.8L517.6 113.8L517.8 113.8L517.9 113.8L518 113.8L518.1 113.8L518.3 113.8L518.4 113.8L518.5 113.8L518.6 113.8L518.8 113.8L518.9 113.8L519 113.8L519.1 113.8L519.3 113.8L519.4 113.8L519.5 113.8L519.6 113.8L519.8 113.8L519.9 113.8L520 113.8L520.1 113.8L520.3 113.8L520.4 113.8L520.5 113.8L520.6 113.8L520.8 113.8L520.9 113.8L521 113.8L521.1 113.8L521.3 113.8L521.4 113.8L521.5 113.8L521.6 113.8L521.8 113.8L521.9 113.8L522 113.8L522.1 113.8L522.3 113.8L522.4 113.8L522.5 113.8L522.6 113.8L522.8 113.8L522.9 113.8L523 113.8L523.1 113.8L523.3 113.8L523.4 113.8L523.5 113.8L523.6 113.8L523.8 113.8L523.9 113.8L524 113.8L524.1 113.8L524.3 113.8L524.4 113.8L524.5 113.8L524.6 113.8L524.8 113.8L524.9 113.8L525 113.8L525.1 113.8L525.3 113.8L525.4 113.8L525.5 113.8L525.6 113.8L525.8 113.8L525.9 113.8L526 113.8L526.1 113.8L526.3 113.8L526.4 113.8L526.5 113.8L526.6 113.8L526.8 113.8L526.9 113.8L527 113.8L527.1 113.8L527.3 113.8L527.4 113.8L527.5 113.8L527.6 113.8L527.8 113.8L527.9 113.8L528 113.8L528.1 113.8L528.3 113.8L528.4 113.8L528.5 113.8L528.6 113.8L528.8 113.8L528.9 113.8L529 113.8L529.1 113.8L529.3 113.8L529.4 113.8L529.5 113.8L529.6 113.8L529.8 113.8L529.9 113.8L530 113.8L530.1 113.8L530.3 113.8L530.4 113.8L530.5 113.8L530.6 113.8L530.8 113.8L530.9 113.8L531 113.8L531.1 113.8L531.3 113.8L531.4 113.8L531.5 113.8L531.6 113.8L531.8 113.8L531.9 113.8L532 113.8L532.1 113.8L532.3 113.8L532.4 113.8L532.5 113.8L532.6 113.8L532.8 113.8L532.9 113.8L533 113.8L533.1 113.8L533.3 113.8L533.4 113.8L533.5 113.8L533.6 113.8L533.8 113.8L533.9 113.8L534 113.8L534.1 113.8L534.3 113.8L534.4 113.8L534.5 113.8L534.6 113.8L534.8 113.8L534.9 113.8L535 113.8L535.1 113.8L535.3 113.8L535.4 113.8L535.5 113.8L535.6 113.8L535.8 113.8L535.9 113.8L536 113.8L536.1 113.8L536.3 113.8L536.4 113.8L536.5 113.8L536.6 113.8L536.8 113.8L536.9 113.8L537 113.8L537.1 113.8L537.3 113.8L537.4 113.8L537.5 113.8L537.6 113.8L537.8 113.8L537.9 113.8L538 113.8L538.1 113.8L538.3 113.8L538.4 113.8L538.5 113.8L538.6 113.8L538.8 113.8L538.9 113.8L539 113.8L539.1 113.8L539.3 113.8L539.4 113.8L539.5 113.8L539.6 113.8L539.8 113.8L539.9 113.8L540 113.8L540.1 113.8L540.3 113.8L540.4 113.8L540.5 113.8L540.6 113.8L540.8 113.8L540.9 113.8L541 113.8L541.1 113.8L541.3 113.8L541.4 113.8L541.5 113.8L541.6 113.8L541.8 113.8L541.9 113.8L542 113.8L542.1 113.8L542.3 113.8L542.4 113.8L542.5 113.8L542.6 113.8L542.8 113.8L542.9 113.8L543 113.8L543.1 113.8L543.3 113.8L543.4 113.8L543.5 113.8L543.6 113.8L543.8 113.8L543.9 113.8L544 113.8L544.1 113.8L544.3 113.8L544.4 113.8L544.5 113.8L544.6 113.8L544.8 113.8L544.9 113.8L545 113.8L545.1 113.8L545.3 113.8L545.4 113.8L545.5 113.8L545.6 113.8L545.8 113.8L545.9 113.8L546 113.8L546.1 113.8L546.3 113.8L546.4 113.8L546.5 113.8L546.6 113.8L546.8 113.8L546.9 113.8L547 113.8L547.1 113.8L547.3 113.8L547.4 113.8L547.5 113.8L547.6 113.8L547.8 113.8L547.9 113.8L548 113.8L548.1 113.8L548.3 113.8L548.4 113.8L548.5 113.8L548.6 113.8L548.8 113.8L548.9 113.8L549 113.8L549.1 113.8L549.3 113.8L549.4 113.8L549.5 113.8L549.6 113.8L549.8 113.8L549.9 113.8L550 113.8L550.1 113.8L550.3 113.8L550.4 113.8L550.5 113.8L550.6 113.8L550.8 113.8L550.9 113.8L551 113.8L551.1 113.8L551.3 113.8L551.4 113.8L551.5 113.8L551.6 113.8L551.8 113.8L551.9 113.8L552 113.8L552.1 113.8L552.3 113.8L552.4 113.8L552.5 113.8L552.6 113.8L552.8 113.8L552.9 113.8L553 113.8L553.1 113.8L553.3 113.8L553.4 113.8L553.5 113.8L553.6 113.8L553.8 113.8L553.9 113.8L554 113.8L554.1 113.8L554.3 113.8L554.4 113.8L554.5 113.8L554.6 113.8L554.8 113.8L554.9 113.8L555 113.8L555.1 113.8L555.3 113.8L555.4 113.8L555.5 113.8L555.6 113.8L555.8 113.8L555.9 113.8L556 113.8L556.1 113.8L556.3 113.8L556.4 113.8L556.5 113.8L556.6 113.8L556.8 113.8L556.9 113.8L557 113.8L557.1 113.8L557.3 113.8L557.4 113.8L557.5 113.8L557.6 113.8L557.8 113.8L557.9 113.8L558 113.8L558.1 113.8L558.3 113.8L558.4 113.8L558.5 113.8L558.6 113.8L558.8 113.8L558.9 113.8L559 113.8L559.1 113.8L559.3 113.8L559.4 113.8L559.5 113.8L559.6 113.8L559.8 113.8L559.9 113.8L560 113.8L560.1 113.8L560.3 113.8L560.4 113.8L560.5 113.8L560.6 113.8L560.8 113.8L560.9 113.8L561 113.8L561.1 113.8L561.3 113.8L561.4 113.8L561.5 113.8L561.6 113.8L561.8 113.8L561.9 113.8L562 113.8L562.1 113.8L562.3 113.8L562.4 113.8L562.5 113.8L562.6 113.8L562.8 113.8L562.9 113.8L563 113.8L563.1 113.8L563.3 113.8L563.4 113.8L563.5 113.8L563.6 113.8L563.8 113.8L563.9 113.8L564 113.8L564.1 113.8L564.2 113.8L564.4 113.8L564.5 113.8L564.6 113.8L564.7 113.8L564.9 113.8L565 113.8L565.1 113.8L565.2 113.8L565.4 113.8L565.5 113.8L565.6 113.8L565.7 113.8L565.9 113.8L566 113.8L566.1 113.8L566.2 113.8L566.4 113.8L566.5 113.8L566.6 113.8L566.7 113.8L566.9 113.8L567 113.8L567.1 113.8L567.2 113.8L567.4 113.8L567.5 113.8L567.6 113.8L567.7 113.8L567.9 113.8L568 113.8L568.1 113.8L568.2 113.8L568.4 113.8L568.5 113.8L568.6 113.8L568.7 113.8L568.9 113.8L569 113.8L569.1 113.8L569.2 113.8L569.4 113.8L569.5 113.8L569.6 113.8L569.7 113.8L569.9 113.8L570 113.8L570.1 113.8L570.2 113.8L570.4 113.8L570.5 113.8L570.6 113.8L570.7 113.8L570.9 113.8L571 113.8L571.1 113.8L571.2 113.8L571.4 113.8L571.5 113.8L571.6 113.8L571.7 113.8L571.9 113.8L572 113.8L572.1 113.8L572.2 113.8L572.4 113.8L572.5 113.8L572.6 113.8L572.7 113.8L572.9 113.8L573 113.8L573.1 113.8L573.2 113.8L573.4 113.8L573.5 113.8L573.6 113.8L573.7 113.8L573.9 113.8L574 113.8L574.1 113.8L574.2 113.8L574.4 113.8L574.5 113.8L574.6 113.8L574.7 113.8L574.9 113.8L575 113.8L575.1 113.8L575.2 113.8L575.4 113.8L575.5 113.8L575.6 113.8L575.7 113.8L575.9 113.8L576 113.8L576.1 113.8L576.2 113.8L576.4 113.8L576.5 113.8L576.6 113.8L576.7 113.8L576.9 113.8L577 113.8L577.1 113.8L577.2 113.8L577.4 113.8L577.5 113.8L577.6 113.8L577.7 113.8L577.9 113.8L578 113.8L578.1 113.8L578.2 113.8L578.4 113.8L578.5 113.8L578.6 113.8L578.7 113.8L578.9 113.8L579 113.8L579.1 113.8L579.2 113.8L579.4 113.8L579.5 113.8L579.6 113.8L579.7 113.8L579.9 113.8L580 113.8L580.1 113.8L580.2 113.8L580.4 113.8L580.5 113.8L580.6 113.8L580.7 113.8L580.9 113.8L581 113.8L581.1 113.8L581.2 113.8L581.4 113.8L581.5 113.8L581.6 113.8L581.7 113.8L581.9 113.8L582 113.8L582.1 113.8L582.2 113.8L582.4 113.8L582.5 113.8L582.6 113.8L582.7 113.8L582.9 113.8L583 113.8L583.1 113.8L583.2 113.8L583.4 113.8L583.5 113.8L583.6 113.8L583.7 113.8L583.9 113.8L584 113.8L584.1 113.8L584.2 113.8L584.4 113.8L584.5 113.8L584.6 113.8L584.7 113.8L584.9 113.8L585 113.8L585.1 113.8L585.2 113.8L585.4 113.8L585.5 113.8L585.6 113.8L585.7 113.8L585.9 113.8L586 113.8L586.1 113.8L586.2 113.8L586.4 113.8L586.5 113.8L586.6 113.8L586.7 113.8L586.9 113.8L587 113.8L587.1 113.8L587.2 113.8L587.4 113.8L587.5 113.8L587.6 113.8L587.7 113.8L587.9 113.8L588 113.8L588.1 113.8L588.2 113.8L588.4 113.8L588.5 113.8L588.6 113.8L588.7 113.8L588.9 113.8L589 113.8L589.1 113.8L589.2 113.8L589.4 113.8L589.5 113.8L589.6 113.8L589.7 113.8L589.9 113.8L590 113.8L590.1 113.8L590.2 113.8L590.4 113.8L590.5 113.8L590.6 113.8L590.7 113.8L590.9 113.8L591 113.8L591.1 113.8L591.2 113.8L591.4 113.8L591.5 113.8L591.6 113.8L591.7 113.8L591.9 113.8L592 113.8L592.1 113.8L592.2 113.8L592.4 113.8L592.5 113.8L592.6 113.8L592.7 113.8L592.9 113.8L593 113.8L593.1 113.8L593.2 113.8L593.4 113.8L593.5 113.8L593.6 113.8L593.7 113.8L593.9 113.8L594 113.8L594.1 113.8L594.2 113.8L594.4 113.8L594.5 113.8L594.6 113.8L594.7 113.8L594.9 113.8L595 113.8L595.1 113.8L595.2 113.8L595.4 113.8L595.5 113.8L595.6 113.8L595.7 113.8L595.9 113.8L596 113.8L596.1 113.8L596.2 113.8L596.4 113.8L596.5 113.8L596.6 113.8L596.7 113.8L596.9 113.8L597 113.8L597.1 113.8L597.2 113.8L597.4 113.8L597.5 113.8L597.6 113.8L597.7 113.8L597.9 113.8L598 113.8L598.1 113.8L598.2 113.8L598.4 113.8L598.5 113.8L598.6 113.8L598.7 113.8L598.9 113.8L599 113.8L599.1 113.8L599.2 113.8L599.4 113.8L599.5 113.8L599.6 113.8L599.7 113.8L599.9 113.8L600 113.8L600.1 113.8L600.2 113.8L600.4 113.8L600.5 113.8L600.6 113.8L600.7 113.8L600.9 113.8L601 113.8L601.1 113.8L601.2 113.8L601.4 113.8L601.5 113.8L601.6 113.8L601.7 113.8L601.9 113.8L602 113.8L602.1 113.8L602.2 113.8L602.4 113.8L602.5 113.8L602.6 113.8L602.7 113.8L602.9 113.8L603 113.8L603.1 113.8L603.2 113.8L603.4 113.8L603.5 113.8L603.6 113.8L603.7 113.8L603.9 113.8L604 113.8L604.1 113.8L604.2 113.8L604.4 113.8L604.5 113.8L604.6 113.8L604.7 113.8L604.9 113.8L605 113.8L605.1 113.8L605.2 113.8L605.4 113.8L605.5 113.8L605.6 113.8L605.7 113.8L605.9 113.8L606 113.8L606.1 113.8L606.2 113.8L606.4 113.8L606.5 113.8L606.6 113.8L606.7 113.8L606.9 113.8L607 113.8L607.1 113.8L607.2 113.8L607.4 113.8L607.5 113.8L607.6 113.8L607.7 113.8L607.9 113.8L608 113.8L608.1 113.8L608.2 113.8L608.4 113.8L608.5 113.8L608.6 113.8L608.7 113.8L608.9 113.8L609 113.8L609.1 113.8L609.2 113.8L609.4 113.8L609.5 113.8L609.6 113.8L609.7 113.8L609.9 113.8L610 113.8L610.1 113.8L610.2 113.8L610.4 113.8L610.5 113.8L610.6 113.8L610.7 113.8L610.9 113.8L611 113.8L611.1 113.8L611.2 113.8L611.4 113.8L611.5 113.8L611.6 113.8L611.7 113.8L611.9 113.8L612 113.8L612.1 113.8L612.2 113.8L612.4 113.8L612.5 113.8L612.6 113.8L612.7 113.8L612.9 113.8L613 113.8L613.1 113.8L613.2 113.8L613.4 113.8L613.5 113.8L613.6 113.8L613.7 113.8L613.9 113.8L614 113.8L614.1 113.8L614.2 113.8L614.4 113.8L614.5 113.8L614.6 113.8L614.7 113.8L614.9 113.8L615 113.8L615.1 113.8L615.2 113.8L615.4 113.8L615.5 113.8L615.6 113.8L615.7 113.8L615.9 113.8L616 113.8L616.1 113.8L616.2 113.8L616.4 113.8L616.5 113.8L616.6 113.8L616.7 113.8L616.9 113.8L617 113.8L617.1 113.8L617.2 113.8L617.4 113.8L617.5 113.8L617.6 113.8L617.7 113.8L617.9 113.8L618 113.8L618.1 113.8L618.2 113.8L618.4 113.8L618.5 113.8L618.6 113.8L618.7 113.8L618.9 113.8L619 113.8L619.1 113.8L619.2 113.8L619.4 113.8L619.5 113.8L619.6 113.8L619.7 113.8L619.9 113.8L620 113.8L620.1 113.8L620.2 113.8L620.4 113.8L620.5 113.8L620.6 113.8L620.7 113.8L620.9 113.8L621 113.8L621.1 113.8L621.2 113.8L621.4 113.8L621.5 113.8L621.6 113.8L621.7 113.8L621.9 113.8L622 113.8L622.1 113.8L622.2 113.8L622.4 113.8L622.5 113.8L622.6 113.8L622.7 113.8L622.9 113.8L623 113.8L623.1 113.8L623.2 113.8L623.4 113.8L623.5 113.8L623.6 113.8L623.7 113.8L623.9 113.8L624 113.8L624.1 113.8L624.2 113.8L624.4 113.8L624.5 113.8L624.6 113.8L624.7 113.8L624.9 113.8L625 113.8L625.1 113.8L625.2 113.8L625.4 113.8L625.5 113.8L625.6 113.8L625.7 113.8L625.9 113.8L626 113.8L626.1 113.8L626.2 113.8L626.4 113.8L626.5 113.8L626.6 113.8L626.7 113.8L626.9 113.8L627 113.8L627.1 113.8L627.2 113.8L627.4 113.8L627.5 113.8L627.6 113.8L627.7 113.8L627.9 113.8L628 113.8L628.1 113.8L628.2 113.8L628.4 113.8L628.5 113.8L628.6 113.8L628.7 113.8L628.9 113.8L629 113.8L629.1 113.8L629.2 113.8L629.4 113.8L629.5 113.8L629.6 113.8L629.7 113.8L629.9 113.8L630 113.8L630.1 113.8L630.2 113.8L630.4 113.8L630.5 113.8L630.6 113.8L630.7 113.8L630.9 113.8L631 113.8L631.1 113.8L631.2 113.8L631.4 113.8L631.5 113.8L631.6 113.8L631.7 113.8L631.9 113.8L632 113.8L632.1 113.8L632.2 113.8L632.4 113.8L632.5 113.8L632.6 113.8L632.7 113.8L632.9 113.8L633 113.8L633.1 113.8L633.2 113.8L633.4 113.8L633.5 113.8L633.6 113.8L633.7 113.8L633.9 113.8L634 113.8L634.1 113.8L634.2 113.8L634.4 113.8L634.5 113.8L634.6 113.8L634.7 113.8L634.9 113.8L635 113.8L635.1 113.8L635.2 113.8L635.4 113.8L635.5 113.8L635.6 113.8L635.7 113.8L635.9 113.8L636 113.8L636.1 113.8L636.2 113.8L636.4 113.8L636.5 113.8L636.6 113.8L636.7 113.8L636.9 113.8L637 113.8L637.1 113.8L637.2 113.8L637.4 113.8L637.5 113.8L637.6 113.8L637.7 113.8L637.9 113.8L638 113.8L638.1 113.8L638.2 113.8L638.4 113.8L638.5 113.8L638.6 113.8L638.7 113.8L638.9 113.8L639 113.8L639.1 113.8" fill="none" stroke="#da1e1e" stroke-width="1.3" stroke-linejoin="round" stroke-linecap="round"/>
<line x1="45.8" y1="475" x2="45.8" y2="298.1" stroke="#000" stroke-width="1.3"/>
<path d="M42,298.6 L45.8,291.2 L49.6,298.6Z" fill="#000"/>
<line x1="274" y1="475" x2="274" y2="298.1" stroke="#da1e1e" stroke-width="1.3"/>
<path d="M270.2,298.6 L274,291.2 L277.8,298.6Z" fill="#da1e1e"/>
<line x1="45.15" y1="475" x2="267.1" y2="475" stroke="#000" stroke-width="1.3"/>
<path d="M266.6,471.2 L274,475 L266.6,478.8Z" fill="#000"/>
<line x1="42.6" y1="474.98" x2="45.8" y2="474.98" stroke="#000" stroke-width="1.25"/>
<line x1="274" y1="474.98" x2="277.2" y2="474.98" stroke="#da1e1e" stroke-width="1.25"/>
<text x="39.8" y="478.18" font-size="9.3" font-family="'Liberation Sans', sans-serif" fill="#1a1a1a" text-anchor="end">−0.1</text>
<text x="280" y="478.18" font-size="9.3" font-family="'Liberation Sans', sans-serif" fill="#da1e1e">−0.1</text>
<line x1="42.6" y1="460.6" x2="45.8" y2="460.6" stroke="#000" stroke-width="1.25"/>
<line x1="274" y1="460.6" x2="277.2" y2="460.6" stroke="#da1e1e" stroke-width="1.25"/>
<text x="39.8" y="463.8" font-size="9.3" font-family="'Liberation Sans', sans-serif" fill="#1a1a1a" text-anchor="end">0.0</text>
<text x="280" y="463.8" font-size="9.3" font-family="'Liberation Sans', sans-serif" fill="#da1e1e">0.0</text>
<line x1="42.6" y1="446.22" x2="45.8" y2="446.22" stroke="#000" stroke-width="1.25"/>
<line x1="274" y1="446.22" x2="277.2" y2="446.22" stroke="#da1e1e" stroke-width="1.25"/>
<text x="39.8" y="449.42" font-size="9.3" font-family="'Liberation Sans', sans-serif" fill="#1a1a1a" text-anchor="end">0.1</text>
<text x="280" y="449.42" font-size="9.3" font-family="'Liberation Sans', sans-serif" fill="#da1e1e">0.1</text>
<line x1="42.6" y1="431.84" x2="45.8" y2="431.84" stroke="#000" stroke-width="1.25"/>
<line x1="274" y1="431.84" x2="277.2" y2="431.84" stroke="#da1e1e" stroke-width="1.25"/>
<text x="39.8" y="435.04" font-size="9.3" font-family="'Liberation Sans', sans-serif" fill="#1a1a1a" text-anchor="end">0.2</text>
<text x="280" y="435.04" font-size="9.3" font-family="'Liberation Sans', sans-serif" fill="#da1e1e">0.2</text>
<line x1="42.6" y1="417.46" x2="45.8" y2="417.46" stroke="#000" stroke-width="1.25"/>
<line x1="274" y1="417.46" x2="277.2" y2="417.46" stroke="#da1e1e" stroke-width="1.25"/>
<text x="39.8" y="420.66" font-size="9.3" font-family="'Liberation Sans', sans-serif" fill="#1a1a1a" text-anchor="end">0.3</text>
<text x="280" y="420.66" font-size="9.3" font-family="'Liberation Sans', sans-serif" fill="#da1e1e">0.3</text>
<line x1="42.6" y1="403.08" x2="45.8" y2="403.08" stroke="#000" stroke-width="1.25"/>
<line x1="274" y1="403.08" x2="277.2" y2="403.08" stroke="#da1e1e" stroke-width="1.25"/>
<text x="39.8" y="406.28" font-size="9.3" font-family="'Liberation Sans', sans-serif" fill="#1a1a1a" text-anchor="end">0.4</text>
<text x="280" y="406.28" font-size="9.3" font-family="'Liberation Sans', sans-serif" fill="#da1e1e">0.4</text>
<line x1="42.6" y1="388.7" x2="45.8" y2="388.7" stroke="#000" stroke-width="1.25"/>
<line x1="274" y1="388.7" x2="277.2" y2="388.7" stroke="#da1e1e" stroke-width="1.25"/>
<text x="39.8" y="391.9" font-size="9.3" font-family="'Liberation Sans', sans-serif" fill="#1a1a1a" text-anchor="end">0.5</text>
<text x="280" y="391.9" font-size="9.3" font-family="'Liberation Sans', sans-serif" fill="#da1e1e">0.5</text>
<line x1="42.6" y1="374.32" x2="45.8" y2="374.32" stroke="#000" stroke-width="1.25"/>
<line x1="274" y1="374.32" x2="277.2" y2="374.32" stroke="#da1e1e" stroke-width="1.25"/>
<text x="39.8" y="377.52" font-size="9.3" font-family="'Liberation Sans', sans-serif" fill="#1a1a1a" text-anchor="end">0.6</text>
<text x="280" y="377.52" font-size="9.3" font-family="'Liberation Sans', sans-serif" fill="#da1e1e">0.6</text>
<line x1="42.6" y1="359.94" x2="45.8" y2="359.94" stroke="#000" stroke-width="1.25"/>
<line x1="274" y1="359.94" x2="277.2" y2="359.94" stroke="#da1e1e" stroke-width="1.25"/>
<text x="39.8" y="363.14" font-size="9.3" font-family="'Liberation Sans', sans-serif" fill="#1a1a1a" text-anchor="end">0.7</text>
<text x="280" y="363.14" font-size="9.3" font-family="'Liberation Sans', sans-serif" fill="#da1e1e">0.7</text>
<line x1="42.6" y1="345.56" x2="45.8" y2="345.56" stroke="#000" stroke-width="1.25"/>
<line x1="274" y1="345.56" x2="277.2" y2="345.56" stroke="#da1e1e" stroke-width="1.25"/>
<text x="39.8" y="348.76" font-size="9.3" font-family="'Liberation Sans', sans-serif" fill="#1a1a1a" text-anchor="end">0.8</text>
<text x="280" y="348.76" font-size="9.3" font-family="'Liberation Sans', sans-serif" fill="#da1e1e">0.8</text>
<line x1="42.6" y1="331.18" x2="45.8" y2="331.18" stroke="#000" stroke-width="1.25"/>
<line x1="274" y1="331.18" x2="277.2" y2="331.18" stroke="#da1e1e" stroke-width="1.25"/>
<text x="39.8" y="334.38" font-size="9.3" font-family="'Liberation Sans', sans-serif" fill="#1a1a1a" text-anchor="end">0.9</text>
<text x="280" y="334.38" font-size="9.3" font-family="'Liberation Sans', sans-serif" fill="#da1e1e">0.9</text>
<line x1="42.6" y1="316.8" x2="45.8" y2="316.8" stroke="#000" stroke-width="1.25"/>
<line x1="274" y1="316.8" x2="277.2" y2="316.8" stroke="#da1e1e" stroke-width="1.25"/>
<text x="39.8" y="320" font-size="9.3" font-family="'Liberation Sans', sans-serif" fill="#1a1a1a" text-anchor="end">1.0</text>
<text x="280" y="320" font-size="9.3" font-family="'Liberation Sans', sans-serif" fill="#da1e1e">1.0</text>
<line x1="42.6" y1="302.42" x2="45.8" y2="302.42" stroke="#000" stroke-width="1.25"/>
<line x1="274" y1="302.42" x2="277.2" y2="302.42" stroke="#da1e1e" stroke-width="1.25"/>
<text x="39.8" y="305.62" font-size="9.3" font-family="'Liberation Sans', sans-serif" fill="#1a1a1a" text-anchor="end">1.1</text>
<text x="280" y="305.62" font-size="9.3" font-family="'Liberation Sans', sans-serif" fill="#da1e1e">1.1</text>
<line x1="44" y1="467.79" x2="45.8" y2="467.79" stroke="#000" stroke-width="1.25"/>
<line x1="274" y1="467.79" x2="275.8" y2="467.79" stroke="#da1e1e" stroke-width="1.25"/>
<line x1="44" y1="453.41" x2="45.8" y2="453.41" stroke="#000" stroke-width="1.25"/>
<line x1="274" y1="453.41" x2="275.8" y2="453.41" stroke="#da1e1e" stroke-width="1.25"/>
<line x1="44" y1="439.03" x2="45.8" y2="439.03" stroke="#000" stroke-width="1.25"/>
<line x1="274" y1="439.03" x2="275.8" y2="439.03" stroke="#da1e1e" stroke-width="1.25"/>
<line x1="44" y1="424.65" x2="45.8" y2="424.65" stroke="#000" stroke-width="1.25"/>
<line x1="274" y1="424.65" x2="275.8" y2="424.65" stroke="#da1e1e" stroke-width="1.25"/>
<line x1="44" y1="410.27" x2="45.8" y2="410.27" stroke="#000" stroke-width="1.25"/>
<line x1="274" y1="410.27" x2="275.8" y2="410.27" stroke="#da1e1e" stroke-width="1.25"/>
<line x1="44" y1="395.89" x2="45.8" y2="395.89" stroke="#000" stroke-width="1.25"/>
<line x1="274" y1="395.89" x2="275.8" y2="395.89" stroke="#da1e1e" stroke-width="1.25"/>
<line x1="44" y1="381.51" x2="45.8" y2="381.51" stroke="#000" stroke-width="1.25"/>
<line x1="274" y1="381.51" x2="275.8" y2="381.51" stroke="#da1e1e" stroke-width="1.25"/>
<line x1="44" y1="367.13" x2="45.8" y2="367.13" stroke="#000" stroke-width="1.25"/>
<line x1="274" y1="367.13" x2="275.8" y2="367.13" stroke="#da1e1e" stroke-width="1.25"/>
<line x1="44" y1="352.75" x2="45.8" y2="352.75" stroke="#000" stroke-width="1.25"/>
<line x1="274" y1="352.75" x2="275.8" y2="352.75" stroke="#da1e1e" stroke-width="1.25"/>
<line x1="44" y1="338.37" x2="45.8" y2="338.37" stroke="#000" stroke-width="1.25"/>
<line x1="274" y1="338.37" x2="275.8" y2="338.37" stroke="#da1e1e" stroke-width="1.25"/>
<line x1="44" y1="323.99" x2="45.8" y2="323.99" stroke="#000" stroke-width="1.25"/>
<line x1="274" y1="323.99" x2="275.8" y2="323.99" stroke="#da1e1e" stroke-width="1.25"/>
<line x1="44" y1="309.61" x2="45.8" y2="309.61" stroke="#000" stroke-width="1.25"/>
<line x1="274" y1="309.61" x2="275.8" y2="309.61" stroke="#da1e1e" stroke-width="1.25"/>
<line x1="57" y1="475" x2="57" y2="478.2" stroke="#000" stroke-width="1.25"/>
<line x1="111.2" y1="475" x2="111.2" y2="478.2" stroke="#000" stroke-width="1.25"/>
<line x1="165.4" y1="475" x2="165.4" y2="478.2" stroke="#000" stroke-width="1.25"/>
<line x1="219.6" y1="475" x2="219.6" y2="478.2" stroke="#000" stroke-width="1.25"/>
<line x1="273.8" y1="475" x2="273.8" y2="478.2" stroke="#000" stroke-width="1.25"/>
<line x1="84.1" y1="475" x2="84.1" y2="476.8" stroke="#000" stroke-width="1.25"/>
<line x1="138.3" y1="475" x2="138.3" y2="476.8" stroke="#000" stroke-width="1.25"/>
<line x1="192.5" y1="475" x2="192.5" y2="476.8" stroke="#000" stroke-width="1.25"/>
<line x1="246.7" y1="475" x2="246.7" y2="476.8" stroke="#000" stroke-width="1.25"/>
<text x="57" y="488.3" font-size="9.2" font-family="'Liberation Sans', sans-serif" fill="#1a1a1a" text-anchor="middle">0.0</text>
<text x="111.2" y="489.4" font-size="9.2" font-family="'Liberation Sans', sans-serif" fill="#1a1a1a" text-anchor="middle">5.0×10<tspan dy="-0.45em" font-size="0.72em">−5</tspan></text>
<text x="165.6" y="489.4" font-size="9.2" font-family="'Liberation Sans', sans-serif" fill="#1a1a1a" text-anchor="middle">1.0×10<tspan dy="-0.45em" font-size="0.72em">−4</tspan></text>
<text x="219.6" y="489.4" font-size="9.2" font-family="'Liberation Sans', sans-serif" fill="#1a1a1a" text-anchor="middle">1.5×10<tspan dy="-0.45em" font-size="0.72em">−4</tspan></text>
<text x="273.8" y="489.4" font-size="9.2" font-family="'Liberation Sans', sans-serif" fill="#1a1a1a" text-anchor="middle">2.0×10<tspan dy="-0.45em" font-size="0.72em">−4</tspan></text>
<text x="160.2" y="505.6" font-size="9.3" font-family="'Liberation Sans', sans-serif" fill="#1a1a1a" text-anchor="middle">Time(s)</text>
<text x="54.8" y="294.3" font-size="10.4" font-family="'Liberation Sans', sans-serif" fill="#1a1a1a">c)</text>
<text transform="translate(13.5,382.9) rotate(-90)" x="0" y="0" text-anchor="middle" font-family="&apos;Liberation Serif&apos;, serif" font-size="12" fill="#333" textLength="52.3" lengthAdjust="spacingAndGlyphs"><tspan font-style="italic">U</tspan>(<tspan font-style="italic">t</tspan>)(<tspan font-style="italic">m</tspan><tspan dx="0.1em">/</tspan><tspan font-style="italic" dx="0.1em">s</tspan>)</text>
<text transform="translate(310.5,377) rotate(-90)" x="0" y="0" text-anchor="middle" font-family="&apos;Liberation Serif&apos;, serif" font-size="12" fill="#e03636" textLength="93" lengthAdjust="spacingAndGlyphs">&lt; <tspan font-style="italic">v</tspan>(<tspan font-style="italic">t</tspan>) &gt;<tspan font-style="italic" font-size="0.7em" dy="0.25em">s</tspan><tspan dy="-0.18em"> (</tspan><tspan font-style="italic">m</tspan><tspan dx="0.1em">/</tspan><tspan font-style="italic" dx="0.1em">s</tspan>)</text>
<path d="M57 460.6L57.2 457.8L57.4 455L57.7 452.4L57.9 449.8L58.1 447.2L58.3 444.6L58.5 441.9L58.7 439L59 436L59.2 432.8L59.4 429.5L59.6 426.1L59.8 422.7L60 419.4L60.3 416.3L60.5 413.3L60.7 410.5L60.9 407.9L61.2 404.8L61.5 402L61.8 399.1L62.3 396.3L62.7 394L63.1 392L63.6 390.1L64 387.9L64.4 385.2L64.8 382.6L65.2 379.6L65.5 376.9L65.7 373.9L66 370.7L66.3 368.2L66.5 365.5L66.7 362.8L66.9 360L67.1 357.2L67.3 354.3L67.6 351.6L67.8 348.9L68.1 345.7L68.3 342.9L68.7 340.4L69.1 339L69.3 338.9L69.7 339.5L70.2 341.1L70.6 342.9L71 344L71.2 344.2L71.7 343.4L72.1 340.9L72.4 338.4L72.7 335.2L72.9 332.5L73.1 329.7L73.3 326.8L73.6 324L73.8 321.2L74 318.6L74.3 315.6L74.6 312.9L75.1 310.9L75.4 310.6L75.8 311.3L76.2 313.4L76.7 316.5L77 319.3L77.4 322L77.8 324.7L78.3 326.3L78.5 326.7L79 326.1L79.4 324.3L79.8 321.6L80.2 318.9L80.6 316.3L81 313.5L81.4 311.7L81.8 311.2L82.2 311.8L82.7 313.9L83 316.5L83.4 319.6L83.7 322.4L84 325.3L84.3 328.3L84.5 331.1L84.8 333.6L85.2 336.2L85.6 338.3L86.1 339.2L86.2 339.3L86.6 338.8L87.1 337.9L87.5 337L87.9 336.7L88.3 337.2L88.7 338.8L89.2 341.6L89.5 344.7L89.8 347.7L90.1 351L90.3 353.5L90.5 356.1L90.8 358.6L91 361.8L91.3 364.7L91.6 367.3L92 369.9L92.4 371.9L92.9 372.8L93.1 372.9L93.5 372.5L93.9 371.7L94.4 370.9L94.8 370.5L95.2 370.9L95.7 372.4L96.1 374.8L96.5 377.6L96.8 380.2L97 383L97.3 386L97.6 388.9L97.9 391.7L98.2 394.3L98.6 397.1L99 399.5L99.4 401L99.9 401.5L99.9 401.5L100.4 401.2L100.8 400.6L101.2 399.9L101.7 399.5L101.7 399.5L102.2 399.9L102.6 401.2L103 403.4L103.5 406.3L103.8 409.1L104.2 412.2L104.6 415.2L104.9 418L105.4 420.9L105.8 422.9L106.2 424.2L106.7 424.6L106.7 424.6L107.2 424.4L107.6 423.8L108 423.2L108.5 422.9L108.9 423.2L109.3 424.2L109.8 426L110.2 428.5L110.6 431.5L111 434.1L111.4 436.7L111.8 439.6L112.2 442L112.7 443.6L113.1 444.5L113.4 444.7L113.8 444.5L114.3 443.8L114.7 443L115.1 442.3L115.6 442L116 442.3L116.4 443.2L116.9 444.8L117.3 446.9L117.7 449.2L118.2 451.6L118.6 453.7L119 455.2L119.5 456.2L119.8 456.4L120.3 456.1L120.7 455.3L121.1 454.1L121.6 452.8L122 451.6L122.4 450.8L122.8 450.6L123.2 450.9L123.7 451.9L124.1 453.3L124.5 455L125 456.9L125.4 458.5L125.8 459.8L126.3 460.5L126.5 460.7L127 460.4L127.4 459.6L127.8 458.4L128.3 457L128.7 455.8L129.1 454.8L129.6 454.4L129.7 454.3L130.2 454.6L130.6 455.5L131 456.7L131.5 458.3L131.9 459.8L132.3 461.1L132.8 462.1L133.2 462.5L133.3 462.6L133.8 462.3L134.2 461.5L134.6 460.4L135.1 459.1L135.5 458L135.9 457L136.4 456.5L136.6 456.5L137 456.7L137.5 457.5L137.9 458.6L138.3 459.9L138.8 461.2L139.2 462.3L139.6 463.1L140.1 463.4L140.5 463.1L140.9 462.5L141.4 461.5L141.8 460.3L142.2 459.1L142.7 458.2L143.1 457.5L143.5 457.4L143.9 457.6L144.3 458.3L144.8 459.3L145.2 460.4L145.6 461.6L146.1 462.5L146.5 463.2L146.9 463.4L147.4 463.1L147.8 462.5L148.2 461.5L148.7 460.5L149.1 459.4L149.5 458.5L150 458L150.3 457.9L150.8 458.1L151.2 458.7L151.6 459.6L152.1 460.7L152.5 461.7L152.9 462.5L153.4 463L153.7 463.2L154.2 463L154.6 462.4L155 461.6L155.5 460.6L155.9 459.6L156.3 458.8L156.8 458.3L157.1 458.1L157.6 458.3L158 458.8L158.4 459.6L158.9 460.6L159.3 461.5L159.7 462.3L160.2 462.8L160.6 463L161 462.7L161.5 462.2L161.9 461.4L162.3 460.5L162.8 459.6L163.2 458.9L163.6 458.5L164 458.4L164.4 458.5L164.9 459.1L165.3 459.8L165.7 460.7L166.2 461.5L166.6 462.2L167 462.6L167.4 462.7L167.8 462.6L168.3 462.1L168.7 461.4L169.1 460.6L169.6 459.8L170 459.1L170.4 458.7L170.8 458.6L171.2 458.7L171.7 459.1L172.1 459.8L172.5 460.6L173 461.4L173.4 462L173.8 462.4L174.2 462.6L174.6 462.4L175.1 462L175.5 461.4L175.9 460.6L176.4 459.9L176.8 459.3L177.2 458.9L177.7 458.7L178.1 458.9L178.5 459.3L179 459.9L179.4 460.7L179.8 461.4L180.3 461.9L180.7 462.3L181.1 462.4L181.5 462.2L181.9 461.8L182.4 461.3L182.8 460.6L183.2 459.9L183.7 459.4L184.1 459L184.4 458.9L184.9 459L185.3 459.4L185.7 459.9L186.2 460.6L186.6 461.2L187.1 461.8L187.5 462.1L187.8 462.2L188.3 462.1L188.7 461.8L189.1 461.3L189.6 460.6L190 460L190.4 459.5L190.9 459.2L191.3 459L191.7 459.2L192.2 459.5L192.6 460L193.1 460.6L193.5 461.2L193.9 461.7L194.4 462L194.7 462.1L195.1 462L195.6 461.6L196 461.1L196.4 460.6L196.9 460L197.3 459.6L197.8 459.3L198.1 459.2L198.5 459.3L199 459.6L199.4 460.1L199.8 460.6L200.3 461.1L200.7 461.6L201.1 461.9L201.5 462L201.9 461.9L202.4 461.6L202.8 461.1L203.2 460.6L203.7 460.1L204.1 459.7L204.5 459.4L205 459.3L205.4 459.4L205.8 459.7L206.3 460.1L206.7 460.6L207.1 461.1L207.6 461.5L208 461.8L208.4 461.8L208.8 461.7L209.2 461.5L209.7 461.1L210.1 460.6L210.5 460.1L211 459.7L211.4 459.5L211.8 459.4L212.2 459.5L212.6 459.8L213.1 460.1L213.5 460.6L213.9 461.1L214.4 461.4L214.8 461.7L215.2 461.7L215.6 461.7L216 461.4L216.5 461.1L216.9 460.6L217.3 460.2L217.8 459.8L218.2 459.6L218.6 459.5L219.1 459.6L219.5 459.9L219.9 460.2L220.4 460.6L220.8 461L221.2 461.4L221.7 461.6L222 461.6L222.5 461.6L222.9 461.3L223.3 461L223.8 460.6L224.2 460.2L224.6 459.9L225.1 459.7L225.4 459.6L225.9 459.7L226.3 459.9L226.7 460.2L227.2 460.6L227.6 461L228 461.3L228.5 461.5L228.8 461.6L229.3 461.5L229.7 461.3L230.1 461L230.6 460.6L231 460.2L231.4 459.9L231.9 459.7L232.3 459.7L232.7 459.8L233.2 460L233.6 460.3L234 460.6L234.5 461L234.9 461.3L235.3 461.4L235.7 461.5L236.1 461.4L236.6 461.2L237 460.9L237.4 460.6L237.9 460.2L238.3 460L238.7 459.8L239.1 459.8L239.5 459.8L240 460L240.4 460.3L240.8 460.6L241.3 460.9L241.7 461.2L242.1 461.4L242.5 461.4L242.9 461.4L243.4 461.2L243.8 460.9L244.2 460.6L244.7 460.3L245.1 460L245.5 459.9L246 459.8L246.4 459.9L246.8 460.1L247.3 460.3L247.7 460.6L248.1 460.9L248.6 461.2L249 461.3L249.4 461.3L249.8 461.3L250.2 461.1L250.7 460.9L251.1 460.6L251.5 460.3L252 460.1L252.4 459.9L252.8 459.9L253.2 459.9L253.6 460.1L254.1 460.3L254.5 460.6L254.9 460.9L255.4 461.1L255.8 461.2L256.2 461.3L256.6 461.2L257 461.1L257.5 460.9L257.9 460.6L258.3 460.3L258.8 460.1L259.2 460L259.6 459.9L260.1 460L260.5 460.2L260.9 460.4L261.4 460.6L261.8 460.9L262.2 461.1L262.7 461.2L263 461.2L263.5 461.2L263.9 461L264.3 460.8L264.8 460.6L265.2 460.3L265.6 460.2L266.1 460L266.4 460L266.9 460L267.3 460.2L267.7 460.4L268.2 460.6L268.6 460.8L269 461L269.5 461.1L269.8 461.2L270.3 461.1L270.7 461L271.1 460.8L271.6 460.6L272 460.4L272.4 460.2L272.9 460.1L273.2 460.1L273.7 460.1L273.8 460.1" fill="none" stroke="#000" stroke-width="1.3" stroke-linejoin="round" stroke-linecap="round"/>
<path d="M57 460.6L57.2 457.5L57.4 454.5L57.7 451.5L57.9 448.5L58.1 445.6L58.3 442.6L58.5 439.8L58.7 436.8L59 433.9L59.2 431L59.4 428.1L59.6 425.3L59.8 422.7L60.1 419.4L60.4 416.4L60.7 413.5L61 410.8L61.3 408.1L61.6 405.6L61.9 402.5L62.3 399.5L62.6 396.5L63 393.6L63.4 390.6L63.7 387.6L64.1 384.6L64.4 381.5L64.8 378.4L65.2 375.3L65.5 372.3L65.9 369.3L66.3 366.3L66.6 363.5L67 360.7L67.3 358.1L67.8 355.2L68.2 352.3L68.6 349.5L69.1 346.7L69.5 344.1L69.9 341.6L70.4 339.2L70.8 336.9L71.2 334.7L71.7 332.7L72.1 330.7L72.5 328.7L73 326.8L73.4 325.1L73.8 323.6L74.3 322.5L74.7 321.6L75.1 320.9L75.6 320.2L76 319.5L76.4 318.9L76.9 318.4L77.3 318L77.7 317.6L78.2 317.4L78.6 317.3L78.7 317.3L79.1 317.4L79.6 317.5L80 317.8L80.4 318.1L80.9 318.6L81.3 319.1L81.7 319.6L82.2 320.3L82.6 320.9L83 321.7L83.5 322.4L83.9 323.4L84.3 324.7L84.8 326.4L85.2 328.3L85.6 330.3L86.1 332.4L86.5 334.6L86.9 336.6L87.4 338.8L87.8 341L88.2 343.4L88.7 345.9L89.1 348.4L89.5 350.8L90 353.2L90.4 355.5L90.8 357.6L91.3 359.7L91.7 361.7L92.1 363.6L92.6 365.5L93 367.4L93.4 369.3L93.9 371.1L94.3 373L94.7 374.8L95.2 376.7L95.6 378.7L96 380.6L96.5 382.5L96.9 384.4L97.3 386.3L97.8 388.2L98.2 390L98.6 391.8L99.1 393.6L99.5 395.4L99.9 397.2L100.4 398.9L100.8 400.5L101.2 402.2L101.7 403.7L102.1 405.3L102.5 406.8L103 408.2L103.4 409.7L103.8 411.1L104.3 412.5L104.7 413.9L105.1 415.4L105.6 416.8L106 418.2L106.4 419.7L106.9 421.1L107.3 422.6L107.7 424.1L108.2 425.6L108.6 427L109 428.5L109.5 429.9L109.9 431.2L110.4 432.5L110.8 433.8L111.2 435L111.7 436.1L112.1 437.3L112.5 438.4L113 439.5L113.4 440.7L113.8 441.8L114.3 442.9L114.7 443.9L115.1 444.9L115.6 445.9L116 446.8L116.4 447.7L116.9 448.5L117.3 449.2L117.7 449.9L118.2 450.5L118.6 451L119 451.4L119.5 451.9L119.9 452.3L120.3 452.7L120.8 453.1L121.2 453.4L121.6 453.8L122.1 454.1L122.5 454.4L122.9 454.8L123.4 455L123.8 455.3L124.2 455.6L124.7 455.9L125.1 456.1L125.5 456.3L126 456.5L126.4 456.8L126.8 457L127.3 457.1L127.7 457.3L128.1 457.5L128.6 457.6L129 457.8L129.4 457.9L129.9 458.1L130.3 458.2L130.7 458.3L131.2 458.5L131.6 458.6L132 458.7L132.5 458.8L132.9 459L133.3 459.1L133.8 459.2L134.2 459.3L134.6 459.4L135.1 459.5L135.5 459.6L135.9 459.7L136.4 459.8L136.8 459.8L137.2 459.9L137.7 460L138.1 460L138.5 460.1L139 460.1L139.4 460.2L139.8 460.2L140.3 460.2L140.7 460.2L141.1 460.3L141.6 460.3L142 460.3L142.4 460.3L142.9 460.4L143.3 460.4L143.7 460.4L144.2 460.4L144.6 460.4L145.1 460.5L145.5 460.5L145.9 460.5L146.4 460.5L146.8 460.5L147.2 460.5L147.7 460.5L148.1 460.6L148.5 460.6L149 460.6L149.4 460.6L149.8 460.6L150.3 460.6L150.7 460.6L151.1 460.6L151.6 460.6L152 460.6L152.1 460.6L152.1 460.6L152.2 460.6L152.3 460.6L152.4 460.6L152.4 460.6L152.5 460.6L152.6 460.6L152.6 460.6L152.7 460.6L152.8 460.6L152.9 460.6L152.9 460.6L153 460.6L153.1 460.6L153.1 460.6L153.2 460.6L153.3 460.6L153.4 460.6L153.4 460.6L153.5 460.6L153.6 460.6L153.7 460.6L153.7 460.6L153.8 460.6L153.9 460.6L153.9 460.6L154 460.6L154.1 460.6L154.2 460.6L154.2 460.6L154.3 460.6L154.4 460.6L154.4 460.6L154.5 460.6L154.6 460.6L154.7 460.6L154.7 460.6L154.8 460.6L154.9 460.6L155 460.6L155 460.6L155.1 460.6L155.2 460.6L155.2 460.6L155.3 460.6L155.4 460.6L155.5 460.6L155.5 460.6L155.6 460.6L155.7 460.6L155.7 460.6L155.8 460.6L155.9 460.6L156 460.6L156 460.6L156.1 460.6L156.2 460.6L156.3 460.6L156.3 460.6L156.4 460.6L156.5 460.6L156.5 460.6L156.6 460.6L156.7 460.6L156.8 460.6L156.8 460.6L156.9 460.6L157 460.6L157.1 460.6L157.1 460.6L157.2 460.6L157.3 460.6L157.3 460.6L157.4 460.6L157.5 460.6L157.6 460.6L157.6 460.6L157.7 460.6L157.8 460.6L157.8 460.6L157.9 460.6L158 460.6L158.1 460.6L158.1 460.6L158.2 460.6L158.3 460.6L158.4 460.6L158.4 460.6L158.5 460.6L158.6 460.6L158.6 460.6L158.7 460.6L158.8 460.6L158.9 460.6L158.9 460.6L159 460.6L159.1 460.6L159.1 460.6L159.2 460.6L159.3 460.6L159.4 460.6L159.4 460.6L159.5 460.6L159.6 460.6L159.7 460.6L159.7 460.6L159.8 460.6L159.9 460.6L159.9 460.6L160 460.6L160.1 460.6L160.2 460.6L160.2 460.6L160.3 460.6L160.4 460.6L160.4 460.6L160.5 460.6L160.6 460.6L160.7 460.6L160.7 460.6L160.8 460.6L160.9 460.6L161 460.6L161 460.6L161.1 460.6L161.2 460.6L161.2 460.6L161.3 460.6L161.4 460.6L161.5 460.6L161.5 460.6L161.6 460.6L161.7 460.6L161.7 460.6L161.8 460.6L161.9 460.6L162 460.6L162 460.6L162.1 460.6L162.2 460.6L162.3 460.6L162.3 460.6L162.4 460.6L162.5 460.6L162.5 460.6L162.6 460.6L162.7 460.6L162.8 460.6L162.8 460.6L162.9 460.6L163 460.6L163.1 460.6L163.1 460.6L163.2 460.6L163.3 460.6L163.3 460.6L163.4 460.6L163.5 460.6L163.6 460.6L163.6 460.6L163.7 460.6L163.8 460.6L163.8 460.6L163.9 460.6L164 460.6L164.1 460.6L164.1 460.6L164.2 460.6L164.3 460.6L164.4 460.6L164.4 460.6L164.5 460.6L164.6 460.6L164.6 460.6L164.7 460.6L164.8 460.6L164.9 460.6L164.9 460.6L165 460.6L165.1 460.6L165.1 460.6L165.2 460.6L165.3 460.6L165.4 460.6L165.4 460.6L165.5 460.6L165.6 460.6L165.7 460.6L165.7 460.6L165.8 460.6L165.9 460.6L165.9 460.6L166 460.6L166.1 460.6L166.2 460.6L166.2 460.6L166.3 460.6L166.4 460.6L166.4 460.6L166.5 460.6L166.6 460.6L166.7 460.6L166.7 460.6L166.8 460.6L166.9 460.6L167 460.6L167 460.6L167.1 460.6L167.2 460.6L167.2 460.6L167.3 460.6L167.4 460.6L167.5 460.6L167.5 460.6L167.6 460.6L167.7 460.6L167.7 460.6L167.8 460.6L167.9 460.6L168 460.6L168 460.6L168.1 460.6L168.2 460.6L168.3 460.6L168.3 460.6L168.4 460.6L168.5 460.6L168.5 460.6L168.6 460.6L168.7 460.6L168.8 460.6L168.8 460.6L168.9 460.6L169 460.6L169.1 460.6L169.1 460.6L169.2 460.6L169.3 460.6L169.3 460.6L169.4 460.6L169.5 460.6L169.6 460.6L169.6 460.6L169.7 460.6L169.8 460.6L169.8 460.6L169.9 460.6L170 460.6L170.1 460.6L170.1 460.6L170.2 460.6L170.3 460.6L170.4 460.6L170.4 460.6L170.5 460.6L170.6 460.6L170.6 460.6L170.7 460.6L170.8 460.6L170.9 460.6L170.9 460.6L171 460.6L171.1 460.6L171.1 460.6L171.2 460.6L171.3 460.6L171.4 460.6L171.4 460.6L171.5 460.6L171.6 460.6L171.7 460.6L171.7 460.6L171.8 460.6L171.9 460.6L171.9 460.6L172 460.6L172.1 460.6L172.2 460.6L172.2 460.6L172.3 460.6L172.4 460.6L172.4 460.6L172.5 460.6L172.6 460.6L172.7 460.6L172.7 460.6L172.8 460.6L172.9 460.6L173 460.6L173 460.6L173.1 460.6L173.2 460.6L173.2 460.6L173.3 460.6L173.4 460.6L173.5 460.6L173.5 460.6L173.6 460.6L173.7 460.6L173.7 460.6L173.8 460.6L173.9 460.6L174 460.6L174 460.6L174.1 460.6L174.2 460.6L174.3 460.6L174.3 460.6L174.4 460.6L174.5 460.6L174.5 460.6L174.6 460.6L174.7 460.6L174.8 460.6L174.8 460.6L174.9 460.6L175 460.6L175.1 460.6L175.1 460.6L175.2 460.6L175.3 460.6L175.3 460.6L175.4 460.6L175.5 460.6L175.6 460.6L175.6 460.6L175.7 460.6L175.8 460.6L175.8 460.6L175.9 460.6L176 460.6L176.1 460.6L176.1 460.6L176.2 460.6L176.3 460.6L176.4 460.6L176.4 460.6L176.5 460.6L176.6 460.6L176.6 460.6L176.7 460.6L176.8 460.6L176.9 460.6L176.9 460.6L177 460.6L177.1 460.6L177.1 460.6L177.2 460.6L177.3 460.6L177.4 460.6L177.4 460.6L177.5 460.6L177.6 460.6L177.7 460.6L177.7 460.6L177.8 460.6L177.9 460.6L177.9 460.6L178 460.6L178.1 460.6L178.2 460.6L178.2 460.6L178.3 460.6L178.4 460.6L178.4 460.6L178.5 460.6L178.6 460.6L178.7 460.6L178.7 460.6L178.8 460.6L178.9 460.6L179 460.6L179 460.6L179.1 460.6L179.2 460.6L179.2 460.6L179.3 460.6L179.4 460.6L179.5 460.6L179.5 460.6L179.6 460.6L179.7 460.6L179.7 460.6L179.8 460.6L179.9 460.6L180 460.6L180 460.6L180.1 460.6L180.2 460.6L180.3 460.6L180.3 460.6L180.4 460.6L180.5 460.6L180.5 460.6L180.6 460.6L180.7 460.6L180.8 460.6L180.8 460.6L180.9 460.6L181 460.6L181.1 460.6L181.1 460.6L181.2 460.6L181.3 460.6L181.3 460.6L181.4 460.6L181.5 460.6L181.6 460.6L181.6 460.6L181.7 460.6L181.8 460.6L181.8 460.6L181.9 460.6L182 460.6L182.1 460.6L182.1 460.6L182.2 460.6L182.3 460.6L182.4 460.6L182.4 460.6L182.5 460.6L182.6 460.6L182.6 460.6L182.7 460.6L182.8 460.6L182.9 460.6L182.9 460.6L183 460.6L183.1 460.6L183.1 460.6L183.2 460.6L183.3 460.6L183.4 460.6L183.4 460.6L183.5 460.6L183.6 460.6L183.7 460.6L183.7 460.6L183.8 460.6L183.9 460.6L183.9 460.6L184 460.6L184.1 460.6L184.2 460.6L184.2 460.6L184.3 460.6L184.4 460.6L184.4 460.6L184.5 460.6L184.6 460.6L184.7 460.6L184.7 460.6L184.8 460.6L184.9 460.6L185 460.6L185 460.6L185.1 460.6L185.2 460.6L185.2 460.6L185.3 460.6L185.4 460.6L185.5 460.6L185.5 460.6L185.6 460.6L185.7 460.6L185.7 460.6L185.8 460.6L185.9 460.6L186 460.6L186 460.6L186.1 460.6L186.2 460.6L186.3 460.6L186.3 460.6L186.4 460.6L186.5 460.6L186.5 460.6L186.6 460.6L186.7 460.6L186.8 460.6L186.8 460.6L186.9 460.6L187 460.6L187.1 460.6L187.1 460.6L187.2 460.6L187.3 460.6L187.3 460.6L187.4 460.6L187.5 460.6L187.6 460.6L187.6 460.6L187.7 460.6L187.8 460.6L187.8 460.6L187.9 460.6L188 460.6L188.1 460.6L188.1 460.6L188.2 460.6L188.3 460.6L188.4 460.6L188.4 460.6L188.5 460.6L188.6 460.6L188.6 460.6L188.7 460.6L188.8 460.6L188.9 460.6L188.9 460.6L189 460.6L189.1 460.6L189.1 460.6L189.2 460.6L189.3 460.6L189.4 460.6L189.4 460.6L189.5 460.6L189.6 460.6L189.7 460.6L189.7 460.6L189.8 460.6L189.9 460.6L189.9 460.6L190 460.6L190.1 460.6L190.2 460.6L190.2 460.6L190.3 460.6L190.4 460.6L190.4 460.6L190.5 460.6L190.6 460.6L190.7 460.6L190.7 460.6L190.8 460.6L190.9 460.6L191 460.6L191 460.6L191.1 460.6L191.2 460.6L191.2 460.6L191.3 460.6L191.4 460.6L191.5 460.6L191.5 460.6L191.6 460.6L191.7 460.6L191.7 460.6L191.8 460.6L191.9 460.6L192 460.6L192 460.6L192.1 460.6L192.2 460.6L192.3 460.6L192.3 460.6L192.4 460.6L192.5 460.6L192.5 460.6L192.6 460.6L192.7 460.6L192.8 460.6L192.8 460.6L192.9 460.6L193 460.6L193.1 460.6L193.1 460.6L193.2 460.6L193.3 460.6L193.3 460.6L193.4 460.6L193.5 460.6L193.6 460.6L193.6 460.6L193.7 460.6L193.8 460.6L193.8 460.6L193.9 460.6L194 460.6L194.1 460.6L194.1 460.6L194.2 460.6L194.3 460.6L194.4 460.6L194.4 460.6L194.5 460.6L194.6 460.6L194.6 460.6L194.7 460.6L194.8 460.6L194.9 460.6L194.9 460.6L195 460.6L195.1 460.6L195.1 460.6L195.2 460.6L195.3 460.6L195.4 460.6L195.4 460.6L195.5 460.6L195.6 460.6L195.7 460.6L195.7 460.6L195.8 460.6L195.9 460.6L195.9 460.6L196 460.6L196.1 460.6L196.2 460.6L196.2 460.6L196.3 460.6L196.4 460.6L196.4 460.6L196.5 460.6L196.6 460.6L196.7 460.6L196.7 460.6L196.8 460.6L196.9 460.6L197 460.6L197 460.6L197.1 460.6L197.2 460.6L197.2 460.6L197.3 460.6L197.4 460.6L197.5 460.6L197.5 460.6L197.6 460.6L197.7 460.6L197.8 460.6L197.8 460.6L197.9 460.6L198 460.6L198 460.6L198.1 460.6L198.2 460.6L198.3 460.6L198.3 460.6L198.4 460.6L198.5 460.6L198.5 460.6L198.6 460.6L198.7 460.6L198.8 460.6L198.8 460.6L198.9 460.6L199 460.6L199.1 460.6L199.1 460.6L199.2 460.6L199.3 460.6L199.3 460.6L199.4 460.6L199.5 460.6L199.6 460.6L199.6 460.6L199.7 460.6L199.8 460.6L199.8 460.6L199.9 460.6L200 460.6L200.1 460.6L200.1 460.6L200.2 460.6L200.3 460.6L200.4 460.6L200.4 460.6L200.5 460.6L200.6 460.6L200.6 460.6L200.7 460.6L200.8 460.6L200.9 460.6L200.9 460.6L201 460.6L201.1 460.6L201.1 460.6L201.2 460.6L201.3 460.6L201.4 460.6L201.4 460.6L201.5 460.6L201.6 460.6L201.7 460.6L201.7 460.6L201.8 460.6L201.9 460.6L201.9 460.6L202 460.6L202.1 460.6L202.2 460.6L202.2 460.6L202.3 460.6L202.4 460.6L202.4 460.6L202.5 460.6L202.6 460.6L202.7 460.6L202.7 460.6L202.8 460.6L202.9 460.6L203 460.6L203 460.6L203.1 460.6L203.2 460.6L203.2 460.6L203.3 460.6L203.4 460.6L203.5 460.6L203.5 460.6L203.6 460.6L203.7 460.6L203.8 460.6L203.8 460.6L203.9 460.6L204 460.6L204 460.6L204.1 460.6L204.2 460.6L204.3 460.6L204.3 460.6L204.4 460.6L204.5 460.6L204.5 460.6L204.6 460.6L204.7 460.6L204.8 460.6L204.8 460.6L204.9 460.6L205 460.6L205.1 460.6L205.1 460.6L205.2 460.6L205.3 460.6L205.3 460.6L205.4 460.6L205.5 460.6L205.6 460.6L205.6 460.6L205.7 460.6L205.8 460.6L205.8 460.6L205.9 460.6L206 460.6L206.1 460.6L206.1 460.6L206.2 460.6L206.3 460.6L206.4 460.6L206.4 460.6L206.5 460.6L206.6 460.6L206.6 460.6L206.7 460.6L206.8 460.6L206.9 460.6L206.9 460.6L207 460.6L207.1 460.6L207.1 460.6L207.2 460.6L207.3 460.6L207.4 460.6L207.4 460.6L207.5 460.6L207.6 460.6L207.7 460.6L207.7 460.6L207.8 460.6L207.9 460.6L207.9 460.6L208 460.6L208.1 460.6L208.2 460.6L208.2 460.6L208.3 460.6L208.4 460.6L208.4 460.6L208.5 460.6L208.6 460.6L208.7 460.6L208.7 460.6L208.8 460.6L208.9 460.6L209 460.6L209 460.6L209.1 460.6L209.2 460.6L209.2 460.6L209.3 460.6L209.4 460.6L209.5 460.6L209.5 460.6L209.6 460.6L209.7 460.6L209.8 460.6L209.8 460.6L209.9 460.6L210 460.6L210 460.6L210.1 460.6L210.2 460.6L210.3 460.6L210.3 460.6L210.4 460.6L210.5 460.6L210.5 460.6L210.6 460.6L210.7 460.6L210.8 460.6L210.8 460.6L210.9 460.6L211 460.6L211.1 460.6L211.1 460.6L211.2 460.6L211.3 460.6L211.3 460.6L211.4 460.6L211.5 460.6L211.6 460.6L211.6 460.6L211.7 460.6L211.8 460.6L211.8 460.6L211.9 460.6L212 460.6L212.1 460.6L212.1 460.6L212.2 460.6L212.3 460.6L212.4 460.6L212.4 460.6L212.5 460.6L212.6 460.6L212.6 460.6L212.7 460.6L212.8 460.6L212.9 460.6L212.9 460.6L213 460.6L213.1 460.6L213.1 460.6L213.2 460.6L213.3 460.6L213.4 460.6L213.4 460.6L213.5 460.6L213.6 460.6L213.7 460.6L213.7 460.6L213.8 460.6L213.9 460.6L213.9 460.6L214 460.6L214.1 460.6L214.2 460.6L214.2 460.6L214.3 460.6L214.4 460.6L214.4 460.6L214.5 460.6L214.6 460.6L214.7 460.6L214.7 460.6L214.8 460.6L214.9 460.6L215 460.6L215 460.6L215.1 460.6L215.2 460.6L215.2 460.6L215.3 460.6L215.4 460.6L215.5 460.6L215.5 460.6L215.6 460.6L215.7 460.6L215.8 460.6L215.8 460.6L215.9 460.6L216 460.6L216 460.6L216.1 460.6L216.2 460.6L216.3 460.6L216.3 460.6L216.4 460.6L216.5 460.6L216.5 460.6L216.6 460.6L216.7 460.6L216.8 460.6L216.8 460.6L216.9 460.6L217 460.6L217.1 460.6L217.1 460.6L217.2 460.6L217.3 460.6L217.3 460.6L217.4 460.6L217.5 460.6L217.6 460.6L217.6 460.6L217.7 460.6L217.8 460.6L217.8 460.6L217.9 460.6L218 460.6L218.1 460.6L218.1 460.6L218.2 460.6L218.3 460.6L218.4 460.6L218.4 460.6L218.5 460.6L218.6 460.6L218.6 460.6L218.7 460.6L218.8 460.6L218.9 460.6L218.9 460.6L219 460.6L219.1 460.6L219.1 460.6L219.2 460.6L219.3 460.6L219.4 460.6L219.4 460.6L219.5 460.6L219.6 460.6L219.7 460.6L219.7 460.6L219.8 460.6L219.9 460.6L219.9 460.6L220 460.6L220.1 460.6L220.2 460.6L220.2 460.6L220.3 460.6L220.4 460.6L220.4 460.6L220.5 460.6L220.6 460.6L220.7 460.6L220.7 460.6L220.8 460.6L220.9 460.6L221 460.6L221 460.6L221.1 460.6L221.2 460.6L221.2 460.6L221.3 460.6L221.4 460.6L221.5 460.6L221.5 460.6L221.6 460.6L221.7 460.6L221.8 460.6L221.8 460.6L221.9 460.6L222 460.6L222 460.6L222.1 460.6L222.2 460.6L222.3 460.6L222.3 460.6L222.4 460.6L222.5 460.6L222.5 460.6L222.6 460.6L222.7 460.6L222.8 460.6L222.8 460.6L222.9 460.6L223 460.6L223.1 460.6L223.1 460.6L223.2 460.6L223.3 460.6L223.3 460.6L223.4 460.6L223.5 460.6L223.6 460.6L223.6 460.6L223.7 460.6L223.8 460.6L223.8 460.6L223.9 460.6L224 460.6L224.1 460.6L224.1 460.6L224.2 460.6L224.3 460.6L224.4 460.6L224.4 460.6L224.5 460.6L224.6 460.6L224.6 460.6L224.7 460.6L224.8 460.6L224.9 460.6L224.9 460.6L225 460.6L225.1 460.6L225.1 460.6L225.2 460.6L225.3 460.6L225.4 460.6L225.4 460.6L225.5 460.6L225.6 460.6L225.7 460.6L225.7 460.6L225.8 460.6L225.9 460.6L225.9 460.6L226 460.6L226.1 460.6L226.2 460.6L226.2 460.6L226.3 460.6L226.4 460.6L226.4 460.6L226.5 460.6L226.6 460.6L226.7 460.6L226.7 460.6L226.8 460.6L226.9 460.6L227 460.6L227 460.6L227.1 460.6L227.2 460.6L227.2 460.6L227.3 460.6L227.4 460.6L227.5 460.6L227.5 460.6L227.6 460.6L227.7 460.6L227.8 460.6L227.8 460.6L227.9 460.6L228 460.6L228 460.6L228.1 460.6L228.2 460.6L228.3 460.6L228.3 460.6L228.4 460.6L228.5 460.6L228.5 460.6L228.6 460.6L228.7 460.6L228.8 460.6L228.8 460.6L228.9 460.6L229 460.6L229.1 460.6L229.1 460.6L229.2 460.6L229.3 460.6L229.3 460.6L229.4 460.6L229.5 460.6L229.6 460.6L229.6 460.6L229.7 460.6L229.8 460.6L229.8 460.6L229.9 460.6L230 460.6L230.1 460.6L230.1 460.6L230.2 460.6L230.3 460.6L230.4 460.6L230.4 460.6L230.5 460.6L230.6 460.6L230.6 460.6L230.7 460.6L230.8 460.6L230.9 460.6L230.9 460.6L231 460.6L231.1 460.6L231.1 460.6L231.2 460.6L231.3 460.6L231.4 460.6L231.4 460.6L231.5 460.6L231.6 460.6L231.7 460.6L231.7 460.6L231.8 460.6L231.9 460.6L231.9 460.6L232 460.6L232.1 460.6L232.2 460.6L232.2 460.6L232.3 460.6L232.4 460.6L232.4 460.6L232.5 460.6L232.6 460.6L232.7 460.6L232.7 460.6L232.8 460.6L232.9 460.6L233 460.6L233 460.6L233.1 460.6L233.2 460.6L233.2 460.6L233.3 460.6L233.4 460.6L233.5 460.6L233.5 460.6L233.6 460.6L233.7 460.6L233.8 460.6L233.8 460.6L233.9 460.6L234 460.6L234 460.6L234.1 460.6L234.2 460.6L234.3 460.6L234.3 460.6L234.4 460.6L234.5 460.6L234.5 460.6L234.6 460.6L234.7 460.6L234.8 460.6L234.8 460.6L234.9 460.6L235 460.6L235.1 460.6L235.1 460.6L235.2 460.6L235.3 460.6L235.3 460.6L235.4 460.6L235.5 460.6L235.6 460.6L235.6 460.6L235.7 460.6L235.8 460.6L235.8 460.6L235.9 460.6L236 460.6L236.1 460.6L236.1 460.6L236.2 460.6L236.3 460.6L236.4 460.6L236.4 460.6L236.5 460.6L236.6 460.6L236.6 460.6L236.7 460.6L236.8 460.6L236.9 460.6L236.9 460.6L237 460.6L237.1 460.6L237.1 460.6L237.2 460.6L237.3 460.6L237.4 460.6L237.4 460.6L237.5 460.6L237.6 460.6L237.7 460.6L237.7 460.6L237.8 460.6L237.9 460.6L237.9 460.6L238 460.6L238.1 460.6L238.2 460.6L238.2 460.6L238.3 460.6L238.4 460.6L238.4 460.6L238.5 460.6L238.6 460.6L238.7 460.6L238.7 460.6L238.8 460.6L238.9 460.6L239 460.6L239 460.6L239.1 460.6L239.2 460.6L239.2 460.6L239.3 460.6L239.4 460.6L239.5 460.6L239.5 460.6L239.6 460.6L239.7 460.6L239.8 460.6L239.8 460.6L239.9 460.6L240 460.6L240 460.6L240.1 460.6L240.2 460.6L240.3 460.6L240.3 460.6L240.4 460.6L240.5 460.6L240.5 460.6L240.6 460.6L240.7 460.6L240.8 460.6L240.8 460.6L240.9 460.6L241 460.6L241.1 460.6L241.1 460.6L241.2 460.6L241.3 460.6L241.3 460.6L241.4 460.6L241.5 460.6L241.6 460.6L241.6 460.6L241.7 460.6L241.8 460.6L241.8 460.6L241.9 460.6L242 460.6L242.1 460.6L242.1 460.6L242.2 460.6L242.3 460.6L242.4 460.6L242.4 460.6L242.5 460.6L242.6 460.6L242.6 460.6L242.7 460.6L242.8 460.6L242.9 460.6L242.9 460.6L243 460.6L243.1 460.6L243.1 460.6L243.2 460.6L243.3 460.6L243.4 460.6L243.4 460.6L243.5 460.6L243.6 460.6L243.7 460.6L243.7 460.6L243.8 460.6L243.9 460.6L243.9 460.6L244 460.6L244.1 460.6L244.2 460.6L244.2 460.6L244.3 460.6L244.4 460.6L244.4 460.6L244.5 460.6L244.6 460.6L244.7 460.6L244.7 460.6L244.8 460.6L244.9 460.6L245 460.6L245 460.6L245.1 460.6L245.2 460.6L245.2 460.6L245.3 460.6L245.4 460.6L245.5 460.6L245.5 460.6L245.6 460.6L245.7 460.6L245.8 460.6L245.8 460.6L245.9 460.6L246 460.6L246 460.6L246.1 460.6L246.2 460.6L246.3 460.6L246.3 460.6L246.4 460.6L246.5 460.6L246.5 460.6L246.6 460.6L246.7 460.6L246.8 460.6L246.8 460.6L246.9 460.6L247 460.6L247.1 460.6L247.1 460.6L247.2 460.6L247.3 460.6L247.3 460.6L247.4 460.6L247.5 460.6L247.6 460.6L247.6 460.6L247.7 460.6L247.8 460.6L247.8 460.6L247.9 460.6L248 460.6L248.1 460.6L248.1 460.6L248.2 460.6L248.3 460.6L248.4 460.6L248.4 460.6L248.5 460.6L248.6 460.6L248.6 460.6L248.7 460.6L248.8 460.6L248.9 460.6L248.9 460.6L249 460.6L249.1 460.6L249.1 460.6L249.2 460.6L249.3 460.6L249.4 460.6L249.4 460.6L249.5 460.6L249.6 460.6L249.7 460.6L249.7 460.6L249.8 460.6L249.9 460.6L249.9 460.6L250 460.6L250.1 460.6L250.2 460.6L250.2 460.6L250.3 460.6L250.4 460.6L250.5 460.6L250.5 460.6L250.6 460.6L250.7 460.6L250.7 460.6L250.8 460.6L250.9 460.6L251 460.6L251 460.6L251.1 460.6L251.2 460.6L251.2 460.6L251.3 460.6L251.4 460.6L251.5 460.6L251.5 460.6L251.6 460.6L251.7 460.6L251.8 460.6L251.8 460.6L251.9 460.6L252 460.6L252 460.6L252.1 460.6L252.2 460.6L252.3 460.6L252.3 460.6L252.4 460.6L252.5 460.6L252.5 460.6L252.6 460.6L252.7 460.6L252.8 460.6L252.8 460.6L252.9 460.6L253 460.6L253.1 460.6L253.1 460.6L253.2 460.6L253.3 460.6L253.3 460.6L253.4 460.6L253.5 460.6L253.6 460.6L253.6 460.6L253.7 460.6L253.8 460.6L253.8 460.6L253.9 460.6L254 460.6L254.1 460.6L254.1 460.6L254.2 460.6L254.3 460.6L254.4 460.6L254.4 460.6L254.5 460.6L254.6 460.6L254.6 460.6L254.7 460.6L254.8 460.6L254.9 460.6L254.9 460.6L255 460.6L255.1 460.6L255.1 460.6L255.2 460.6L255.3 460.6L255.4 460.6L255.4 460.6L255.5 460.6L255.6 460.6L255.7 460.6L255.7 460.6L255.8 460.6L255.9 460.6L255.9 460.6L256 460.6L256.1 460.6L256.2 460.6L256.2 460.6L256.3 460.6L256.4 460.6L256.5 460.6L256.5 460.6L256.6 460.6L256.7 460.6L256.7 460.6L256.8 460.6L256.9 460.6L257 460.6L257 460.6L257.1 460.6L257.2 460.6L257.2 460.6L257.3 460.6L257.4 460.6L257.5 460.6L257.5 460.6L257.6 460.6L257.7 460.6L257.8 460.6L257.8 460.6L257.9 460.6L258 460.6L258 460.6L258.1 460.6L258.2 460.6L258.3 460.6L258.3 460.6L258.4 460.6L258.5 460.6L258.5 460.6L258.6 460.6L258.7 460.6L258.8 460.6L258.8 460.6L258.9 460.6L259 460.6L259.1 460.6L259.1 460.6L259.2 460.6L259.3 460.6L259.3 460.6L259.4 460.6L259.5 460.6L259.6 460.6L259.6 460.6L259.7 460.6L259.8 460.6L259.8 460.6L259.9 460.6L260 460.6L260.1 460.6L260.1 460.6L260.2 460.6L260.3 460.6L260.4 460.6L260.4 460.6L260.5 460.6L260.6 460.6L260.6 460.6L260.7 460.6L260.8 460.6L260.9 460.6L260.9 460.6L261 460.6L261.1 460.6L261.1 460.6L261.2 460.6L261.3 460.6L261.4 460.6L261.4 460.6L261.5 460.6L261.6 460.6L261.7 460.6L261.7 460.6L261.8 460.6L261.9 460.6L261.9 460.6L262 460.6L262.1 460.6L262.2 460.6L262.2 460.6L262.3 460.6L262.4 460.6L262.5 460.6L262.5 460.6L262.6 460.6L262.7 460.6L262.7 460.6L262.8 460.6L262.9 460.6L263 460.6L263 460.6L263.1 460.6L263.2 460.6L263.2 460.6L263.3 460.6L263.4 460.6L263.5 460.6L263.5 460.6L263.6 460.6L263.7 460.6L263.8 460.6L263.8 460.6L263.9 460.6L264 460.6L264 460.6L264.1 460.6L264.2 460.6L264.3 460.6L264.3 460.6L264.4 460.6L264.5 460.6L264.5 460.6L264.6 460.6L264.7 460.6L264.8 460.6L264.8 460.6L264.9 460.6L265 460.6L265.1 460.6L265.1 460.6L265.2 460.6L265.3 460.6L265.3 460.6L265.4 460.6L265.5 460.6L265.6 460.6L265.6 460.6L265.7 460.6L265.8 460.6L265.8 460.6L265.9 460.6L266 460.6L266.1 460.6L266.1 460.6L266.2 460.6L266.3 460.6L266.4 460.6L266.4 460.6L266.5 460.6L266.6 460.6L266.6 460.6L266.7 460.6L266.8 460.6L266.9 460.6L266.9 460.6L267 460.6L267.1 460.6L267.1 460.6L267.2 460.6L267.3 460.6L267.4 460.6L267.4 460.6L267.5 460.6L267.6 460.6L267.7 460.6L267.7 460.6L267.8 460.6L267.9 460.6L267.9 460.6L268 460.6L268.1 460.6L268.2 460.6L268.2 460.6L268.3 460.6L268.4 460.6L268.5 460.6L268.5 460.6L268.6 460.6L268.7 460.6L268.7 460.6L268.8 460.6L268.9 460.6L269 460.6L269 460.6L269.1 460.6L269.2 460.6L269.2 460.6L269.3 460.6L269.4 460.6L269.5 460.6L269.5 460.6L269.6 460.6L269.7 460.6L269.8 460.6L269.8 460.6L269.9 460.6L270 460.6L270 460.6L270.1 460.6L270.2 460.6L270.3 460.6L270.3 460.6L270.4 460.6L270.5 460.6L270.5 460.6L270.6 460.6L270.7 460.6L270.8 460.6L270.8 460.6L270.9 460.6L271 460.6L271.1 460.6L271.1 460.6L271.2 460.6L271.3 460.6L271.3 460.6L271.4 460.6L271.5 460.6L271.6 460.6L271.6 460.6L271.7 460.6L271.8 460.6L271.8 460.6L271.9 460.6L272 460.6L272.1 460.6L272.1 460.6L272.2 460.6L272.3 460.6L272.4 460.6L272.4 460.6L272.5 460.6L272.6 460.6L272.6 460.6L272.7 460.6L272.8 460.6L272.9 460.6L272.9 460.6L273 460.6L273.1 460.6L273.1 460.6L273.2 460.6L273.3 460.6L273.4 460.6L273.4 460.6L273.5 460.6L273.6 460.6L273.7 460.6L273.7 460.6L273.8 460.6" fill="none" stroke="#da1e1e" stroke-width="1.3" stroke-linejoin="round" stroke-linecap="round"/>
<line x1="388" y1="477" x2="388" y2="289.6" stroke="#000" stroke-width="1.3"/>
<path d="M384.25,290.1 L388,282.6 L391.75,290.1Z" fill="#000"/>
<line x1="644.5" y1="477" x2="644.5" y2="289.6" stroke="#da1e1e" stroke-width="1.3"/>
<path d="M640.75,290.1 L644.5,282.6 L648.25,290.1Z" fill="#da1e1e"/>
<line x1="387.35" y1="477" x2="637.5" y2="477" stroke="#000" stroke-width="1.3"/>
<path d="M637,473.25 L644.5,477 L637,480.75Z" fill="#000"/>
<line x1="384.6" y1="477" x2="388" y2="477" stroke="#000" stroke-width="1.25"/>
<line x1="644.5" y1="477" x2="647.9" y2="477" stroke="#da1e1e" stroke-width="1.25"/>
<text x="382.8" y="480.3" font-size="9.5" font-family="'Liberation Sans', sans-serif" fill="#1a1a1a" text-anchor="end">0.0</text>
<text x="649.7" y="480.3" font-size="9.5" font-family="'Liberation Sans', sans-serif" fill="#da1e1e">0.0</text>
<line x1="384.6" y1="440.72" x2="388" y2="440.72" stroke="#000" stroke-width="1.25"/>
<line x1="644.5" y1="440.72" x2="647.9" y2="440.72" stroke="#da1e1e" stroke-width="1.25"/>
<text x="382.8" y="444.02" font-size="9.5" font-family="'Liberation Sans', sans-serif" fill="#1a1a1a" text-anchor="end">0.2</text>
<text x="649.7" y="444.02" font-size="9.5" font-family="'Liberation Sans', sans-serif" fill="#da1e1e">0.2</text>
<line x1="384.6" y1="404.44" x2="388" y2="404.44" stroke="#000" stroke-width="1.25"/>
<line x1="644.5" y1="404.44" x2="647.9" y2="404.44" stroke="#da1e1e" stroke-width="1.25"/>
<text x="382.8" y="407.74" font-size="9.5" font-family="'Liberation Sans', sans-serif" fill="#1a1a1a" text-anchor="end">0.4</text>
<text x="649.7" y="407.74" font-size="9.5" font-family="'Liberation Sans', sans-serif" fill="#da1e1e">0.4</text>
<line x1="384.6" y1="368.16" x2="388" y2="368.16" stroke="#000" stroke-width="1.25"/>
<line x1="644.5" y1="368.16" x2="647.9" y2="368.16" stroke="#da1e1e" stroke-width="1.25"/>
<text x="382.8" y="371.46" font-size="9.5" font-family="'Liberation Sans', sans-serif" fill="#1a1a1a" text-anchor="end">0.6</text>
<text x="649.7" y="371.46" font-size="9.5" font-family="'Liberation Sans', sans-serif" fill="#da1e1e">0.6</text>
<line x1="384.6" y1="331.88" x2="388" y2="331.88" stroke="#000" stroke-width="1.25"/>
<line x1="644.5" y1="331.88" x2="647.9" y2="331.88" stroke="#da1e1e" stroke-width="1.25"/>
<text x="382.8" y="335.18" font-size="9.5" font-family="'Liberation Sans', sans-serif" fill="#1a1a1a" text-anchor="end">0.8</text>
<text x="649.7" y="335.18" font-size="9.5" font-family="'Liberation Sans', sans-serif" fill="#da1e1e">0.8</text>
<line x1="384.6" y1="295.6" x2="388" y2="295.6" stroke="#000" stroke-width="1.25"/>
<line x1="644.5" y1="295.6" x2="647.9" y2="295.6" stroke="#da1e1e" stroke-width="1.25"/>
<text x="382.8" y="298.9" font-size="9.5" font-family="'Liberation Sans', sans-serif" fill="#1a1a1a" text-anchor="end">1.0</text>
<text x="649.7" y="298.9" font-size="9.5" font-family="'Liberation Sans', sans-serif" fill="#da1e1e">1.0</text>
<line x1="386.2" y1="458.86" x2="388" y2="458.86" stroke="#000" stroke-width="1.25"/>
<line x1="644.5" y1="458.86" x2="646.3" y2="458.86" stroke="#da1e1e" stroke-width="1.25"/>
<line x1="386.2" y1="422.58" x2="388" y2="422.58" stroke="#000" stroke-width="1.25"/>
<line x1="644.5" y1="422.58" x2="646.3" y2="422.58" stroke="#da1e1e" stroke-width="1.25"/>
<line x1="386.2" y1="386.3" x2="388" y2="386.3" stroke="#000" stroke-width="1.25"/>
<line x1="644.5" y1="386.3" x2="646.3" y2="386.3" stroke="#da1e1e" stroke-width="1.25"/>
<line x1="386.2" y1="350.02" x2="388" y2="350.02" stroke="#000" stroke-width="1.25"/>
<line x1="644.5" y1="350.02" x2="646.3" y2="350.02" stroke="#da1e1e" stroke-width="1.25"/>
<line x1="386.2" y1="313.74" x2="388" y2="313.74" stroke="#000" stroke-width="1.25"/>
<line x1="644.5" y1="313.74" x2="646.3" y2="313.74" stroke="#da1e1e" stroke-width="1.25"/>
<line x1="388" y1="477" x2="388" y2="480.4" stroke="#000" stroke-width="1.25"/>
<line x1="452.1" y1="477" x2="452.1" y2="480.4" stroke="#000" stroke-width="1.25"/>
<line x1="516.2" y1="477" x2="516.2" y2="480.4" stroke="#000" stroke-width="1.25"/>
<line x1="580.3" y1="477" x2="580.3" y2="480.4" stroke="#000" stroke-width="1.25"/>
<line x1="644.4" y1="477" x2="644.4" y2="480.4" stroke="#000" stroke-width="1.25"/>
<line x1="420.05" y1="477" x2="420.05" y2="478.8" stroke="#000" stroke-width="1.25"/>
<line x1="484.15" y1="477" x2="484.15" y2="478.8" stroke="#000" stroke-width="1.25"/>
<line x1="548.25" y1="477" x2="548.25" y2="478.8" stroke="#000" stroke-width="1.25"/>
<line x1="612.35" y1="477" x2="612.35" y2="478.8" stroke="#000" stroke-width="1.25"/>
<text x="388" y="491" font-size="9.4" font-family="'Liberation Sans', sans-serif" fill="#1a1a1a" text-anchor="middle">0.0000</text>
<text x="452.1" y="491" font-size="9.4" font-family="'Liberation Sans', sans-serif" fill="#1a1a1a" text-anchor="middle">0.0001</text>
<text x="516.2" y="491" font-size="9.4" font-family="'Liberation Sans', sans-serif" fill="#1a1a1a" text-anchor="middle">0.0002</text>
<text x="580.3" y="491" font-size="9.4" font-family="'Liberation Sans', sans-serif" fill="#1a1a1a" text-anchor="middle">0.0003</text>
<text x="644.4" y="491" font-size="9.4" font-family="'Liberation Sans', sans-serif" fill="#1a1a1a" text-anchor="middle">0.0004</text>
<text x="516.4" y="507" font-size="9.4" font-family="'Liberation Sans', sans-serif" fill="#1a1a1a" text-anchor="middle">Time(s)</text>
<text x="397.8" y="284.2" font-size="10.5" font-family="'Liberation Sans', sans-serif" fill="#1a1a1a">d)</text>
<text transform="translate(364.5,380.5) rotate(-90)" x="0" y="0" text-anchor="middle" font-family="&apos;Liberation Serif&apos;, serif" font-size="11.5" fill="#333" textLength="51" lengthAdjust="spacingAndGlyphs"><tspan font-style="italic">U</tspan>(<tspan font-style="italic">t</tspan>)(<tspan font-style="italic">m</tspan><tspan dx="0.1em">/</tspan><tspan font-style="italic" dx="0.1em">s</tspan>)</text>
<text transform="translate(677.5,381) rotate(-90)" x="0" y="0" text-anchor="middle" font-family="&apos;Liberation Serif&apos;, serif" font-size="12" fill="#e03636" textLength="92" lengthAdjust="spacingAndGlyphs">&lt; <tspan font-style="italic">v</tspan>(<tspan font-style="italic">t</tspan>) &gt;<tspan font-style="italic" font-size="0.7em" dy="0.25em">s</tspan><tspan dy="-0.18em"> (</tspan><tspan font-style="italic">m</tspan><tspan dx="0.1em">/</tspan><tspan font-style="italic" dx="0.1em">s</tspan>)</text>
<path d="M388 477L388.4 475.8L388.9 474.3L389.3 472.4L389.7 470.2L390.1 467.8L390.6 465.5L391 463.6L391.4 462L391.8 460.8L392.3 459.5L392.7 458.1L393.1 456.2L393.6 454L394 451.6L394.4 449.4L394.8 447.4L395.3 445.8L395.7 444.5L396.1 443.2L396.5 441.7L397 439.9L397.4 437.6L397.8 435.1L398.3 432.6L398.7 430.4L399.1 428.6L399.5 427L400 425.6L400.4 423.9L400.8 422L401.3 419.6L401.7 417.1L402.1 414.6L402.5 412.3L403 410.5L403.4 409L403.8 407.7L404.2 406.3L404.7 404.6L405.1 402.5L405.5 400.1L406 397.8L406.4 395.7L406.8 394L407.2 392.6L407.7 391.4L408.1 390.1L408.5 388.5L408.9 386.6L409.4 384.4L409.8 382.1L410.2 380.1L410.7 378.4L411.1 377.1L411.5 375.9L411.9 374.7L412.4 373.2L412.8 371.4L413.2 369.2L413.6 367L414.1 365L414.5 363.4L414.9 362L415.4 361L415.8 359.9L416.2 358.5L416.6 356.9L417.1 354.9L417.5 352.9L417.9 351.1L418.4 349.6L418.8 348.5L419.2 347.6L419.6 346.7L420.1 345.7L420.5 344.3L420.9 342.6L421.3 340.8L421.8 339.1L422.2 337.7L422.6 336.7L423.1 336L423.5 335.3L423.9 334.4L424.3 333.2L424.8 331.7L425.2 330.1L425.6 328.6L426 327.4L426.5 326.5L426.9 325.9L427.3 325.3L427.8 324.6L428.2 323.6L428.6 322.3L429 320.8L429.5 319.4L429.9 318.3L430.3 317.5L430.7 317L431.2 316.6L431.6 316.1L432 315.3L432.5 314.2L432.9 313L433.3 311.8L433.7 310.8L434.2 310.1L434.6 309.8L435 309.5L435.4 309.1L435.9 308.5L436.3 307.6L436.7 306.4L437.2 305.3L437.6 304.5L438 303.9L438.4 303.7L438.9 303.6L439.3 303.5L439.7 303.2L440.2 302.5L440.6 301.7L441 300.9L441.4 300.2L441.9 299.9L442.1 299.8L442.5 299.9L443 300L443.1 300L443.5 299.9L443.9 299.5L444.3 298.9L444.8 298.1L445.2 297.5L445.6 297.2L445.8 297.2L446.2 297.3L446.6 297.5L447.1 297.7L447.2 297.7L447.7 297.6L448.1 297.2L448.5 296.6L449 296.1L449.4 295.8L449.6 295.7L450 295.9L450.4 296.2L450.8 296.5L451.3 296.7L451.7 296.5L452.1 296.2L452.5 295.7L453 295.4L453.2 295.3L453.7 295.4L454.1 295.8L454.5 296.3L454.9 296.7L455.4 296.9L455.5 296.9L455.9 296.8L456.3 296.5L456.7 296.3L456.9 296.3L457.3 296.4L457.8 296.9L458.2 297.5L458.6 298.2L459 298.7L459.5 299L459.6 299L460.1 298.9L460.5 298.8L460.6 298.8L461 298.9L461.4 299.3L461.9 300L462.3 300.7L462.7 301.4L463.2 301.8L463.6 301.9L463.7 301.9L464.1 301.9L464.3 301.9L464.8 302L465.2 302.3L465.6 303L466.1 303.8L466.5 304.6L466.9 305.2L467.3 305.5L467.8 305.6L468.2 305.7L468.6 305.9L469 306.3L469.5 307L469.9 307.9L470.3 308.8L470.8 309.5L471.2 310L471.6 310.3L472 310.5L472.5 310.8L472.9 311.3L473.3 312.1L473.8 313.2L474.2 314.2L474.6 315.1L475 315.8L475.5 316.2L475.9 316.6L476.3 317L476.7 317.6L477.2 318.4L477.6 319.5L478 320.6L478.5 321.6L478.9 322.3L479.3 322.8L479.7 323.2L480.2 323.7L480.6 324.3L481 325.2L481.4 326.3L481.9 327.5L482.3 328.5L482.7 329.4L483.2 330L483.6 330.4L484 330.9L484.4 331.5L484.9 332.4L485.3 333.5L485.7 334.7L486.1 335.8L486.6 336.6L487 337.2L487.4 337.7L487.9 338.1L488.3 338.7L488.7 339.6L489.1 340.6L489.6 341.8L490 342.9L490.4 343.8L490.9 344.4L491.3 344.9L491.7 345.3L492.1 345.9L492.6 346.7L493 347.8L493.4 349L493.8 350.1L494.3 351L494.7 351.7L495.1 352.2L495.6 352.7L496 353.3L496.4 354.1L496.8 355.2L497.3 356.3L497.7 357.5L498.1 358.5L498.5 359.2L499 359.8L499.4 360.2L499.8 360.8L500.3 361.6L500.7 362.7L501.1 363.8L501.5 365L502 366L502.4 366.8L502.8 367.4L503.2 367.9L503.7 368.5L504.1 369.3L504.5 370.4L505 371.6L505.4 372.8L505.8 373.8L506.2 374.7L506.7 375.3L507.1 375.9L507.5 376.5L507.9 377.2L508.4 378.3L508.8 379.4L509.2 380.6L509.7 381.7L510.1 382.6L510.5 383.3L510.9 383.8L511.4 384.4L511.8 385.1L512.2 386.1L512.7 387.2L513.1 388.4L513.5 389.5L513.9 390.3L514.4 391L514.8 391.5L515.2 392.1L515.6 392.7L516.1 393.6L516.5 394.7L516.9 395.9L517.4 396.9L517.8 397.8L518.2 398.5L518.6 399L519.1 399.5L519.5 400.1L519.9 400.9L520.3 402L520.8 403.1L521.2 404.1L521.6 404.9L522.1 405.6L522.5 406.1L522.9 406.5L523.3 407.1L523.8 407.9L524.2 408.9L524.6 409.9L525 410.9L525.5 411.8L525.9 412.4L526.3 412.9L526.8 413.3L527.2 413.8L527.6 414.6L528 415.5L528.5 416.5L528.9 417.5L529.3 418.3L529.8 419L530.2 419.4L530.6 419.8L531 420.3L531.5 421L531.9 421.8L532.3 422.8L532.7 423.8L533.2 424.6L533.6 425.2L534 425.6L534.5 426L534.9 426.4L535.3 427L535.7 427.7L536.2 428.6L536.6 429.5L537 430.3L537.4 430.9L537.9 431.3L538.3 431.6L538.7 432L539.2 432.5L539.6 433.2L540 434L540.4 434.9L540.9 435.6L541.3 436.2L541.7 436.5L542.1 436.8L542.6 437.1L543 437.5L543.4 438.1L543.9 438.9L544.3 439.7L544.7 440.4L545.1 440.9L545.6 441.2L546 441.4L546.4 441.7L546.9 442L547.3 442.6L547.7 443.2L548.1 444L548.6 444.6L549 445.1L549.4 445.4L549.8 445.6L550.3 445.8L550.7 446.1L551.1 446.5L551.6 447.1L552 447.8L552.4 448.4L552.8 448.9L553.3 449.2L553.7 449.3L554.1 449.5L554.5 449.7L555 450.1L555.4 450.7L555.8 451.3L556.3 451.9L556.7 452.4L557.1 452.7L557.5 452.8L558 452.9L558.4 453.1L558.8 453.4L559.2 453.9L559.7 454.5L560.1 455.1L560.5 455.5L561 455.8L561.4 455.9L561.8 456L562.2 456.2L562.7 456.4L563.1 456.9L563.5 457.5L563.9 458L564.4 458.4L564.8 458.7L565.2 458.8L565.7 458.9L566.1 459L566.5 459.2L566.9 459.6L567.4 460.1L567.8 460.6L568.2 461L568.7 461.2L569.1 461.3L569.5 461.3L569.9 461.4L570.4 461.6L570.8 461.9L571.2 462.4L571.6 462.8L572.1 463.2L572.5 463.4L572.9 463.5L573.4 463.5L573.6 463.5L574 463.5L574.5 463.7L574.9 464.1L575.3 464.5L575.7 464.9L576.2 465.2L576.6 465.3L576.8 465.3L577.2 465.3L577.5 465.3L578 465.3L578.4 465.6L578.8 465.9L579.3 466.3L579.7 466.7L580.1 466.9L580.5 467L580.6 467L581 467L581.5 466.9L581.9 467L582.3 467.2L582.8 467.5L583.2 467.9L583.6 468.3L584 468.5L584.5 468.6L584.9 468.5L585.3 468.4L585.5 468.4L585.9 468.5L586.3 468.7L586.8 469.1L587.2 469.4L587.6 469.7L588.1 469.9L588.2 469.9L588.7 469.8L589.1 469.7L589.4 469.7L589.9 469.8L590.3 470L590.7 470.3L591.1 470.6L591.6 470.9L592 471L592.2 471L592.6 471L593 470.9L593.4 470.8L593.8 470.9L594.2 471.1L594.6 471.4L595.1 471.7L595.5 472L595.9 472L596 472L596.4 472L596.9 471.9L597.3 471.8L597.7 471.9L598.1 472.1L598.6 472.4L599 472.7L599.4 472.9L599.9 472.9L600.3 472.9L600.7 472.8L601.1 472.7L601.3 472.7L601.7 472.7L602.2 473L602.6 473.2L603 473.5L603.4 473.6L603.7 473.7L604.1 473.6L604.6 473.5L605 473.4L605.2 473.3L605.7 473.4L606.1 473.6L606.5 473.9L607 474.1L607.4 474.2L607.6 474.3L608 474.2L608.4 474.1L608.8 473.9L609.2 473.9L609.6 474L610 474.2L610.5 474.4L610.9 474.6L611.3 474.7L611.4 474.8L611.8 474.7L612.3 474.6L612.7 474.4L613.1 474.4L613.5 474.5L614 474.6L614.4 474.9L614.8 475.1L615.2 475.2L615.3 475.2L615.8 475.1L616.2 475L616.6 474.8L617 474.8L617.4 474.8L617.8 475L618.2 475.2L618.7 475.4L619.1 475.5L619.2 475.6L619.6 475.5L620 475.4L620.5 475.2L620.9 475.1L621.3 475.2L621.7 475.4L622.2 475.6L622.6 475.8L623 475.9L623.1 475.9L623.5 475.8L624 475.7L624.4 475.5L624.8 475.5L625.2 475.5L625.7 475.7L626.1 475.9L626.5 476.1L627 476.2L627.4 476.1L627.8 476L628.2 475.8L628.7 475.8L628.8 475.8L629.2 475.8L629.6 476L630 476.2L630.5 476.4L630.9 476.4L631.3 476.4L631.7 476.2L632.2 476.1L632.6 476L633 476.1L633.5 476.2L633.9 476.4L634.3 476.6L634.7 476.7L635.2 476.6L635.6 476.5L636 476.3L636.4 476.3L636.5 476.3L637 476.3L637.4 476.5L637.8 476.7L638.2 476.8L638.7 476.9L639.1 476.8L639.5 476.7L640 476.5L640.4 476.5L640.5 476.5L640.9 476.5L641.3 476.7L641.7 476.9L642.2 477L642.5 477.1L642.9 477L643.4 476.9L643.8 476.7L644.2 476.7L644.3 476.7L644.4 476.7" fill="none" stroke="#222" stroke-width="1.0" stroke-linejoin="round" stroke-linecap="round"/>
<path d="M388 477L388.4 475.2L388.9 473.4L389.3 471.6L389.7 469.8L390.1 468L390.6 466.2L391 464.4L391.4 462.6L391.8 460.8L392.3 459L392.7 457.2L393.1 455.4L393.6 453.6L394 451.8L394.4 450L394.8 448.2L395.3 446.4L395.7 444.6L396.1 442.8L396.5 440.9L397 439L397.4 437.1L397.8 435.2L398.3 433.2L398.7 431.3L399.1 429.3L399.5 427.2L400 425.2L400.4 423.2L400.8 421.2L401.3 419.1L401.7 417.1L402.1 415.1L402.5 413.2L403 411.2L403.4 409.3L403.8 407.5L404.2 405.6L404.7 403.8L405.1 401.9L405.5 400.1L406 398.3L406.4 396.5L406.8 394.7L407.2 393L407.7 391.2L408.1 389.4L408.5 387.7L408.9 386L409.4 384.3L409.8 382.6L410.2 380.9L410.7 379.2L411.1 377.5L411.5 375.8L411.9 374.1L412.4 372.4L412.8 370.7L413.2 369.1L413.6 367.4L414.1 365.8L414.5 364.1L414.9 362.5L415.4 360.9L415.8 359.3L416.2 357.7L416.6 356.2L417.1 354.7L417.5 353.2L417.9 351.8L418.4 350.4L418.8 349L419.2 347.6L419.6 346.3L420.1 344.9L420.5 343.6L420.9 342.3L421.3 341L421.8 339.7L422.2 338.5L422.6 337.3L423.1 336L423.5 334.9L423.9 333.7L424.3 332.5L424.8 331.4L425.2 330.3L425.6 329.2L426 328.1L426.5 327.1L426.9 326L427.3 325L427.8 323.9L428.2 322.9L428.6 321.9L429 320.9L429.5 320L429.9 319L430.3 318.1L430.7 317.2L431.2 316.3L431.6 315.5L432 314.6L432.5 313.8L432.9 313L433.3 312.3L433.7 311.5L434.2 310.7L434.6 310L435 309.2L435.4 308.5L435.9 307.8L436.3 307.1L436.7 306.4L437.2 305.8L437.6 305.1L438 304.5L438.4 304L438.9 303.4L439.3 302.9L439.7 302.5L440.2 302L440.6 301.6L441 301.3L441.4 300.9L441.9 300.5L442.3 300.2L442.7 299.8L443.1 299.5L443.6 299.2L444 298.9L444.4 298.6L444.9 298.3L445.3 298.1L445.7 297.8L446.1 297.6L446.6 297.4L447 297.2L447.4 297.1L447.8 296.9L448.3 296.8L448.7 296.6L449.1 296.5L449.6 296.4L450 296.3L450.4 296.2L450.8 296.1L451.3 296L451.7 296L452.1 295.9L452.5 295.9L452.6 295.9L453.1 295.9L453.5 296L453.9 296L454.3 296.1L454.8 296.2L455.2 296.2L455.6 296.3L456.1 296.5L456.5 296.7L456.9 296.8L457.3 297.1L457.8 297.3L458.2 297.5L458.6 297.8L459 298.1L459.5 298.4L459.9 298.7L460.3 299L460.8 299.3L461.2 299.7L461.6 300L462 300.3L462.5 300.6L462.9 301L463.3 301.3L463.7 301.6L464.2 302L464.6 302.4L465 302.8L465.5 303.1L465.9 303.5L466.3 304L466.7 304.4L467.2 304.8L467.6 305.3L468 305.7L468.5 306.2L468.9 306.7L469.3 307.2L469.7 307.7L470.2 308.2L470.6 308.7L471 309.2L471.4 309.8L471.9 310.4L472.3 311L472.7 311.6L473.2 312.3L473.6 312.9L474 313.6L474.4 314.3L474.9 315L475.3 315.7L475.7 316.4L476.1 317.1L476.6 317.9L477 318.6L477.4 319.3L477.9 320L478.3 320.8L478.7 321.5L479.1 322.2L479.6 323L480 323.8L480.4 324.5L480.8 325.3L481.3 326.1L481.7 326.9L482.1 327.7L482.6 328.5L483 329.3L483.4 330.1L483.8 330.9L484.3 331.7L484.7 332.6L485.1 333.4L485.5 334.2L486 335L486.4 335.8L486.8 336.5L487.3 337.3L487.7 338.1L488.1 338.9L488.5 339.7L489 340.5L489.4 341.3L489.8 342.1L490.3 342.9L490.7 343.7L491.1 344.5L491.5 345.3L492 346.1L492.4 346.9L492.8 347.7L493.2 348.5L493.7 349.4L494.1 350.2L494.5 351L495 351.8L495.4 352.6L495.8 353.5L496.2 354.3L496.7 355.1L497.1 355.9L497.5 356.8L497.9 357.6L498.4 358.4L498.8 359.3L499.2 360.1L499.7 361L500.1 361.8L500.5 362.6L500.9 363.5L501.4 364.3L501.8 365.2L502.2 366L502.6 366.9L503.1 367.8L503.5 368.6L503.9 369.5L504.4 370.4L504.8 371.2L505.2 372.1L505.6 373L506.1 373.9L506.5 374.7L506.9 375.6L507.4 376.5L507.8 377.4L508.2 378.3L508.6 379.2L509.1 380L509.5 380.9L509.9 381.8L510.3 382.7L510.8 383.5L511.2 384.4L511.6 385.3L512.1 386.1L512.5 387L512.9 387.8L513.3 388.7L513.8 389.5L514.2 390.4L514.6 391.2L515 392.1L515.5 392.9L515.9 393.7L516.3 394.5L516.8 395.4L517.2 396.2L517.6 397L518 397.8L518.5 398.6L518.9 399.4L519.3 400.2L519.7 401L520.2 401.8L520.6 402.6L521 403.4L521.5 404.2L521.9 404.9L522.3 405.7L522.7 406.5L523.2 407.3L523.6 408L524 408.8L524.5 409.5L524.9 410.3L525.3 411L525.7 411.8L526.2 412.5L526.6 413.2L527 414L527.4 414.7L527.9 415.4L528.3 416.2L528.7 416.9L529.2 417.6L529.6 418.3L530 419L530.4 419.7L530.9 420.4L531.3 421.1L531.7 421.8L532.1 422.5L532.6 423.2L533 423.9L533.4 424.5L533.9 425.2L534.3 425.8L534.7 426.5L535.1 427.1L535.6 427.8L536 428.4L536.4 429L536.8 429.7L537.3 430.3L537.7 430.9L538.1 431.5L538.6 432.1L539 432.7L539.4 433.3L539.8 433.9L540.3 434.4L540.7 435L541.1 435.5L541.5 436.1L542 436.6L542.4 437.2L542.8 437.7L543.3 438.2L543.7 438.8L544.1 439.3L544.5 439.8L545 440.3L545.4 440.8L545.8 441.3L546.3 441.8L546.7 442.2L547.1 442.7L547.5 443.2L548 443.6L548.4 444.1L548.8 444.5L549.2 445L549.7 445.4L550.1 445.8L550.5 446.3L551 446.7L551.4 447.1L551.8 447.5L552.2 447.9L552.7 448.3L553.1 448.7L553.5 449.1L553.9 449.5L554.4 449.9L554.8 450.3L555.2 450.7L555.7 451.1L556.1 451.5L556.5 451.8L556.9 452.2L557.4 452.6L557.8 452.9L558.2 453.3L558.6 453.7L559.1 454L559.5 454.3L559.9 454.7L560.4 455L560.8 455.4L561.2 455.7L561.6 456L562.1 456.4L562.5 456.7L562.9 457L563.4 457.3L563.8 457.6L564.2 458L564.6 458.3L565.1 458.6L565.5 458.9L565.9 459.2L566.3 459.4L566.8 459.7L567.2 460L567.6 460.3L568.1 460.5L568.5 460.8L568.9 461.1L569.3 461.3L569.8 461.6L570.2 461.8L570.6 462.1L571 462.3L571.5 462.6L571.9 462.8L572.3 463L572.8 463.2L573.2 463.5L573.6 463.7L574 463.9L574.5 464.1L574.9 464.3L575.3 464.5L575.7 464.7L576.2 464.9L576.6 465.1L577 465.3L577.5 465.5L577.9 465.6L578.3 465.8L578.7 466L579.2 466.2L579.6 466.4L580 466.6L580.4 466.7L580.9 466.9L581.3 467.1L581.7 467.3L582.2 467.4L582.6 467.6L583 467.8L583.4 467.9L583.9 468.1L584.3 468.3L584.7 468.4L585.2 468.6L585.6 468.7L586 468.9L586.4 469L586.9 469.2L587.3 469.3L587.7 469.4L588.1 469.6L588.6 469.7L589 469.8L589.4 470L589.9 470.1L590.3 470.2L590.7 470.3L591.1 470.5L591.6 470.6L592 470.7L592.4 470.8L592.8 470.9L593.3 471.1L593.7 471.2L594.1 471.3L594.6 471.4L595 471.5L595.4 471.6L595.8 471.7L596.3 471.8L596.7 471.9L597.1 472L597.5 472.1L598 472.2L598.4 472.3L598.8 472.4L599.3 472.5L599.7 472.6L600.1 472.7L600.5 472.8L601 472.9L601.4 473L601.8 473.1L602.3 473.1L602.7 473.2L603.1 473.3L603.5 473.4L604 473.4L604.4 473.5L604.8 473.6L605.2 473.6L605.7 473.7L606.1 473.8L606.5 473.8L607 473.9L607.4 473.9L607.8 474L608.2 474.1L608.7 474.1L609.1 474.2L609.5 474.2L609.9 474.3L610.4 474.3L610.8 474.4L611.2 474.4L611.7 474.5L612.1 474.5L612.5 474.6L612.9 474.6L613.4 474.7L613.8 474.7L614.2 474.8L614.6 474.8L615.1 474.9L615.5 474.9L615.9 475L616.4 475L616.8 475L617.2 475.1L617.6 475.1L618.1 475.2L618.5 475.2L618.9 475.2L619.3 475.3L619.8 475.3L620.2 475.4L620.6 475.4L621.1 475.4L621.5 475.5L621.9 475.5L622.3 475.5L622.8 475.6L623.2 475.6L623.6 475.6L624.1 475.7L624.5 475.7L624.9 475.7L625.3 475.8L625.8 475.8L626.2 475.8L626.6 475.9L627 475.9L627.5 475.9L627.9 476L628.3 476L628.8 476L629.2 476.1L629.6 476.1L630 476.1L630.5 476.1L630.9 476.2L631.3 476.2L631.7 476.2L632.2 476.2L632.6 476.3L633 476.3L633.5 476.3L633.9 476.4L634.3 476.4L634.7 476.4L635.2 476.4L635.6 476.5L636 476.5L636.4 476.5L636.9 476.5L637.3 476.6L637.7 476.6L638.2 476.6L638.6 476.6L639 476.6L639.4 476.7L639.9 476.7L640.3 476.7L640.7 476.7L641.2 476.8L641.6 476.8L642 476.8L642.4 476.8L642.9 476.8L643.3 476.9L643.7 476.9L644.1 476.9L644.4 476.9" fill="none" stroke="#d42424" stroke-width="1.15" stroke-linejoin="round" stroke-linecap="round"/>
</svg>
</body></html>
